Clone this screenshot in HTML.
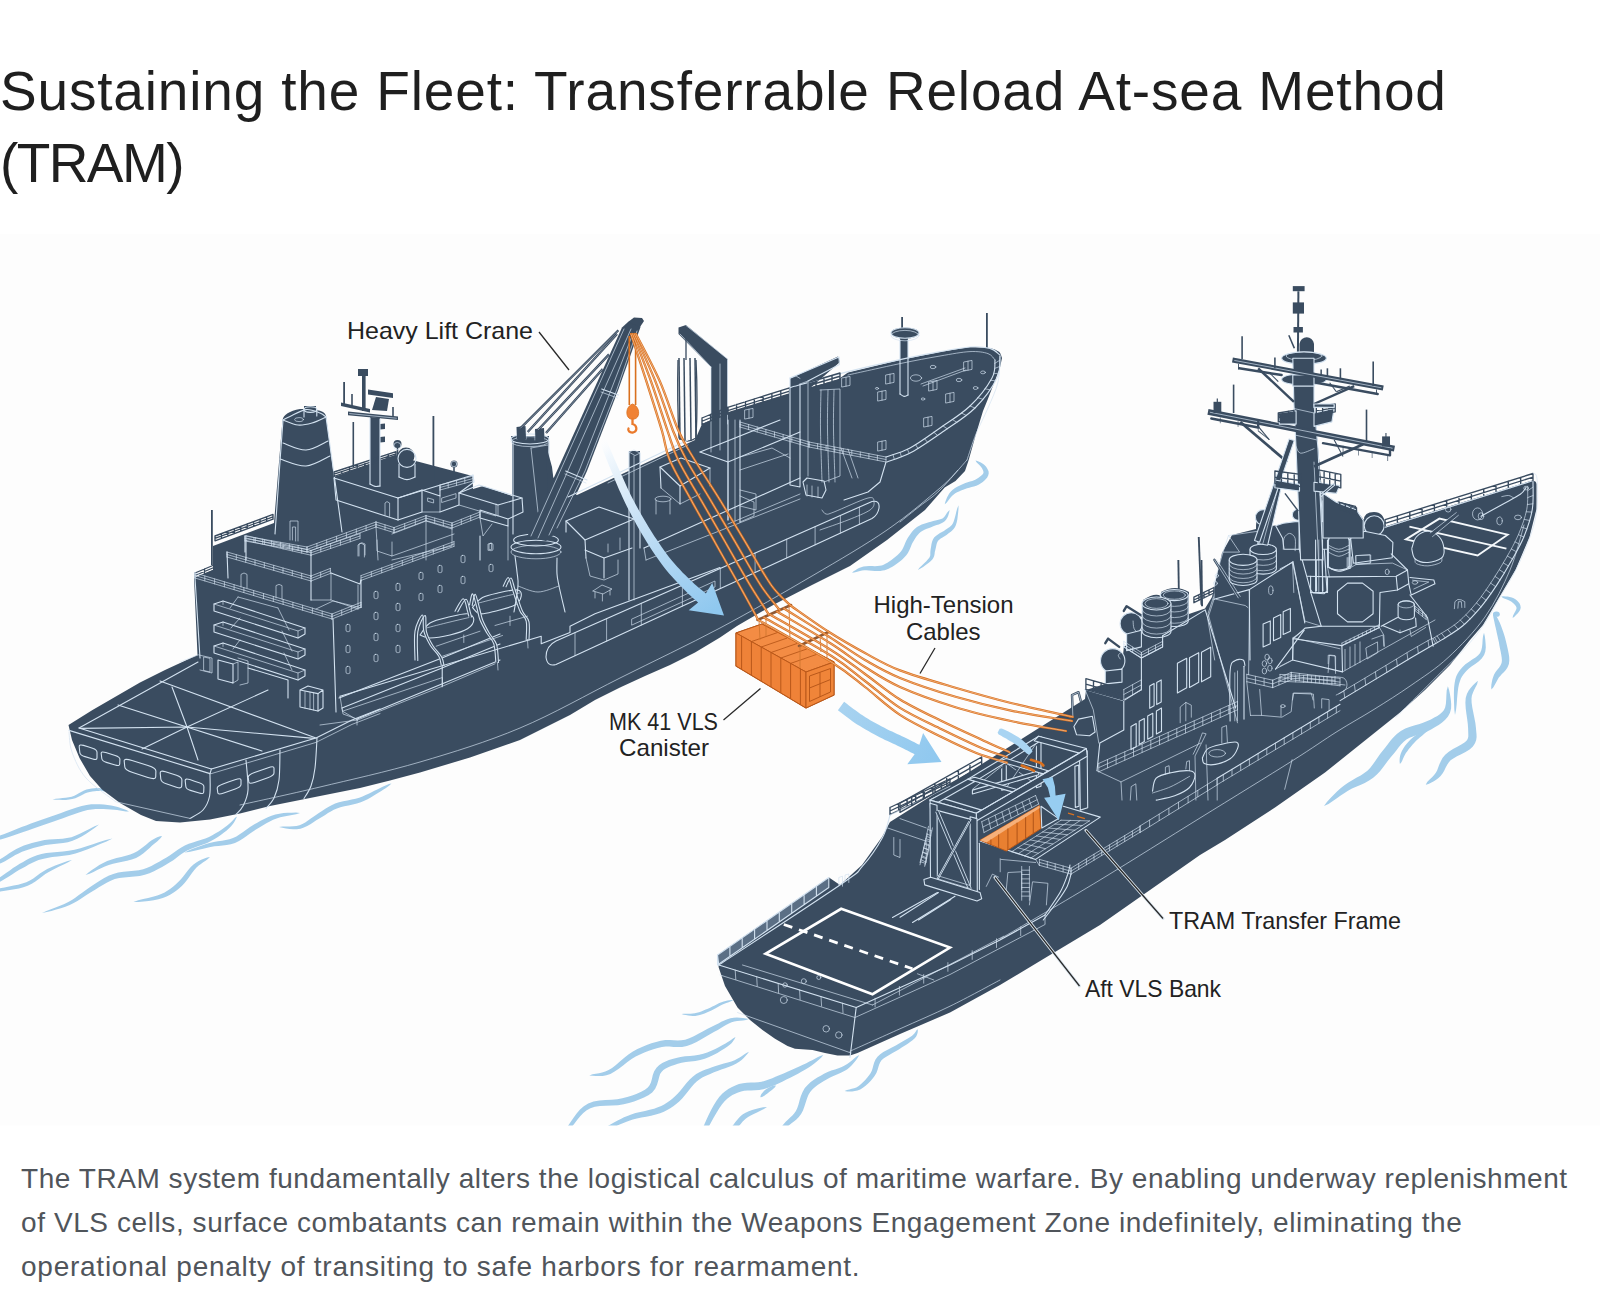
<!DOCTYPE html>
<html><head><meta charset="utf-8">
<style>
html,body{margin:0;padding:0;background:#fff;}
body{width:1600px;height:1298px;position:relative;overflow:hidden;font-family:"Liberation Sans",sans-serif;}
#title{position:absolute;left:0;top:54.5px;margin:0;font-weight:400;font-size:55px;line-height:72px;color:#1f1f1f;white-space:nowrap;}
#title span{display:block;}
#t1{letter-spacing:0.83px;}
#t2{letter-spacing:-1.6px;}
#cap{position:absolute;left:21px;top:1157px;margin:0;font-size:28px;line-height:44px;color:#50555b;white-space:nowrap;}
#cap span{display:block;}
#c1{letter-spacing:0.552px;}#c2{letter-spacing:0.587px;}#c3{letter-spacing:0.75px;}
svg{position:absolute;left:0;top:0;}
.h{fill:#3a4c60;stroke:none;}
.hs{fill:#3a4c60;stroke:#d3e2f0;stroke-width:1.1;stroke-linejoin:round;}
.l{fill:none;stroke:#d3e2f0;stroke-width:1.1;stroke-linecap:round;stroke-linejoin:round;}
.lt{fill:none;stroke:#d3e2f0;stroke-width:0.8;stroke-linecap:round;stroke-linejoin:round;opacity:.85;}
.u{fill:none;stroke:#3a4c60;stroke-width:2.4;stroke-linecap:round;stroke-linejoin:round;}
.u2{fill:none;stroke:#3a4c60;stroke-width:1.35;stroke-linecap:round;stroke-linejoin:round;}
.d{fill:none;stroke:#3a4c60;stroke-linecap:round;}
.w{fill:none;stroke:#a3cdea;stroke-linecap:round;stroke-linejoin:round;}
.o{fill:none;stroke:#d9711f;stroke-width:1.5;stroke-linecap:round;}
.oc{fill:none;stroke:#f6c49a;stroke-width:0.5;stroke-linecap:round;}
.lbl{font-family:"Liberation Sans",sans-serif;font-size:24px;fill:#222;}
.ld{fill:none;stroke:#2a2a2a;stroke-width:1.3;}
</style></head><body>
<h1 id="title"><span id="t1">Sustaining the Fleet: Transferrable Reload At-sea Method</span><span id="t2">(TRAM)</span></h1>
<svg id="art" width="1600" height="1298" viewBox="0 0 1600 1298">
<!-- 05_bg.svg -->
<rect x="0" y="234" width="1600" height="891.5" fill="#fdfdfd"/>
<!-- 10_wakes.svg -->
<defs><clipPath id="imgclip"><rect x="0" y="230" width="1600" height="895.5"/></clipPath></defs>
<g id="wakes" clip-path="url(#imgclip)">
<path fill="#a3cdea" d="M52.5,799.4 L55.8,799.7 L59.2,799.8 L62.6,799.9 L65.9,799.9 L69.2,799.6 L72.3,799.1 L75.3,798.3 L78.0,797.1 L80.6,795.8 L83.0,794.4 L85.3,793.3 L87.5,792.5 L89.8,791.9 L92.2,791.5 L94.5,791.2 L96.8,791.0 L98.8,790.9 L100.4,790.8 L101.5,790.8 L102.2,790.9 L102.8,791.1 L103.4,791.3 L104.1,791.6 L105.0,791.6 L105.0,791.6 L104.7,790.8 L104.3,790.2 L103.8,789.6 L103.1,789.0 L102.0,788.5 L100.6,788.2 L98.8,788.1 L96.7,788.1 L94.3,788.2 L91.7,788.5 L89.1,788.9 L86.5,789.5 L84.0,790.5 L81.6,791.8 L79.2,793.1 L76.7,794.5 L74.3,795.7 L71.7,796.7 L68.8,797.3 L65.7,797.7 L62.5,798.1 L59.1,798.4 L55.8,798.7 L52.5,799.4Z"/>
<path fill="#a3cdea" d="M-36.0,848.0 L-29.7,847.0 L-23.4,845.5 L-17.1,844.0 L-10.9,842.5 L-5.0,840.9 L0.6,839.4 L5.7,837.9 L10.3,836.4 L14.7,834.9 L19.0,833.5 L23.3,832.0 L27.9,830.4 L32.7,828.7 L37.7,827.1 L42.7,825.3 L47.8,823.6 L52.9,821.8 L57.9,820.1 L63.0,818.3 L68.2,816.3 L73.3,814.4 L78.3,812.7 L83.0,811.2 L87.5,810.1 L91.7,809.4 L95.7,809.1 L99.7,809.0 L103.5,809.1 L107.2,809.3 L110.8,809.4 L114.1,809.7 L117.1,810.1 L120.0,810.5 L122.9,811.0 L125.9,811.4 L129.0,811.4 L129.0,811.4 L126.3,810.0 L123.5,808.9 L120.7,807.9 L117.8,807.0 L114.6,806.2 L111.2,805.6 L107.6,805.1 L103.8,804.6 L99.8,804.3 L95.6,804.2 L91.2,804.3 L86.5,804.9 L81.7,806.0 L76.6,807.4 L71.4,809.2 L66.2,811.0 L61.1,812.9 L56.1,814.7 L51.0,816.4 L46.0,818.2 L40.9,820.0 L35.9,821.8 L30.9,823.6 L26.1,825.4 L21.6,827.1 L17.3,828.8 L13.1,830.5 L8.8,832.2 L4.3,833.9 L-0.6,835.6 L-6.0,837.5 L-11.8,839.4 L-17.8,841.4 L-24.0,843.4 L-30.1,845.5 L-36.0,848.0Z"/>
<path fill="#a3cdea" d="M-30.0,875.0 L-24.6,873.4 L-19.2,871.4 L-13.9,869.4 L-8.7,867.3 L-3.7,865.3 L0.9,863.2 L5.0,861.2 L8.7,859.1 L12.1,857.0 L15.3,855.1 L18.6,853.4 L22.0,851.8 L25.7,850.4 L29.5,849.2 L33.3,848.0 L37.3,847.0 L41.4,846.0 L45.5,845.1 L49.6,844.4 L54.0,844.0 L58.5,843.6 L63.1,843.1 L67.9,842.2 L72.6,840.8 L77.2,838.8 L81.7,836.4 L86.2,833.7 L90.6,830.7 L94.9,827.8 L99.0,824.6 L99.0,824.6 L94.1,826.5 L89.4,828.9 L84.8,831.3 L80.3,833.6 L75.8,835.6 L71.4,837.2 L67.0,838.1 L62.6,838.7 L58.1,839.0 L53.6,839.2 L49.0,839.5 L44.5,840.1 L40.2,841.0 L36.0,842.0 L31.9,843.0 L27.9,844.2 L23.9,845.6 L20.0,847.2 L16.3,849.0 L12.9,851.0 L9.6,853.1 L6.4,855.3 L3.0,857.5 L-0.9,859.8 L-5.2,862.1 L-10.0,864.4 L-15.0,866.9 L-20.1,869.4 L-25.2,872.0 L-30.0,875.0Z"/>
<path fill="#a3cdea" d="M-30.0,896.0 L-24.5,893.9 L-19.1,891.4 L-13.8,888.8 L-8.6,886.2 L-3.6,883.6 L1.0,881.2 L5.1,878.8 L8.9,876.5 L12.4,874.2 L15.7,872.1 L18.9,870.1 L22.3,868.2 L25.6,866.4 L28.8,864.6 L31.9,863.0 L35.1,861.5 L38.6,860.1 L42.6,858.9 L47.2,857.9 L52.2,857.1 L57.7,856.5 L63.5,855.8 L69.5,854.9 L75.5,853.5 L81.5,851.6 L87.7,849.3 L93.9,846.8 L100.2,844.1 L106.5,841.4 L112.5,838.4 L112.5,838.4 L105.9,840.0 L99.4,842.1 L93.0,844.2 L86.6,846.3 L80.5,848.2 L74.5,849.7 L68.7,850.8 L63.0,851.5 L57.2,851.9 L51.7,852.4 L46.3,853.0 L41.4,853.9 L37.0,855.2 L33.1,856.7 L29.6,858.3 L26.3,860.1 L23.1,861.9 L19.7,863.8 L16.3,865.9 L13.0,868.1 L9.8,870.4 L6.4,872.8 L2.9,875.3 L-1.0,877.8 L-5.4,880.5 L-10.1,883.4 L-15.1,886.4 L-20.2,889.4 L-25.3,892.6 L-30.0,896.0Z"/>
<path fill="#a3cdea" d="M-30.0,896.0 L-24.8,895.6 L-19.7,894.9 L-14.6,894.1 L-9.5,893.3 L-4.5,892.5 L0.3,891.6 L5.1,890.8 L9.8,890.1 L14.4,889.3 L19.0,888.4 L23.4,887.3 L27.7,885.8 L31.8,883.8 L35.4,881.5 L38.8,879.0 L42.1,876.5 L45.3,874.1 L48.8,871.9 L52.5,869.9 L56.3,868.0 L60.3,866.1 L64.2,864.2 L68.2,862.3 L72.0,860.0 L72.0,860.0 L67.7,861.1 L63.5,862.5 L59.4,864.0 L55.2,865.6 L51.2,867.2 L47.2,869.1 L43.5,871.2 L39.9,873.6 L36.6,876.0 L33.3,878.4 L29.9,880.5 L26.3,882.2 L22.3,883.6 L18.1,884.7 L13.7,885.6 L9.1,886.5 L4.4,887.4 L-0.3,888.4 L-5.1,889.5 L-10.0,890.7 L-15.0,891.9 L-20.1,893.1 L-25.1,894.4 L-30.0,896.0Z"/>
<path fill="#a3cdea" d="M42.0,913.1 L46.8,912.1 L51.5,910.9 L56.2,909.6 L60.9,908.2 L65.4,906.7 L69.7,905.0 L73.7,903.0 L77.4,900.9 L80.9,898.7 L84.2,896.4 L87.6,894.2 L91.3,892.0 L95.1,889.7 L98.9,887.3 L102.8,884.9 L106.7,882.7 L110.7,880.7 L114.8,879.1 L119.3,878.1 L124.1,877.4 L129.2,877.0 L134.5,876.6 L139.8,876.0 L144.8,874.8 L149.5,873.2 L154.0,871.3 L158.2,869.1 L162.1,866.9 L165.9,864.7 L169.5,862.5 L172.9,860.4 L175.9,858.3 L178.7,856.1 L181.4,854.1 L184.2,852.2 L187.2,850.5 L190.7,848.9 L194.6,847.4 L198.8,846.0 L203.0,844.5 L207.2,842.9 L211.0,841.1 L214.6,839.1 L217.9,837.0 L221.1,834.8 L224.0,832.6 L226.7,830.4 L229.1,828.3 L231.1,826.2 L232.7,824.3 L234.0,822.4 L235.1,820.5 L236.1,818.6 L237.0,816.5 L237.0,816.5 L235.1,817.8 L233.6,819.4 L232.2,821.0 L230.7,822.5 L229.0,824.1 L226.9,825.7 L224.5,827.5 L221.8,829.4 L218.8,831.4 L215.6,833.3 L212.3,835.2 L209.0,836.9 L205.4,838.4 L201.4,839.7 L197.2,841.0 L192.9,842.4 L188.7,843.8 L184.8,845.5 L181.3,847.4 L178.1,849.4 L175.3,851.5 L172.5,853.5 L169.7,855.5 L166.5,857.5 L162.9,859.5 L159.2,861.7 L155.3,863.8 L151.4,865.9 L147.3,867.7 L143.2,869.2 L138.8,870.2 L133.9,870.8 L128.8,871.3 L123.5,871.8 L118.2,872.6 L113.2,873.9 L108.5,875.8 L104.2,878.0 L100.1,880.5 L96.2,883.1 L92.4,885.6 L88.7,888.0 L85.2,890.4 L81.8,892.9 L78.5,895.3 L75.3,897.7 L71.9,899.9 L68.3,902.0 L64.3,903.9 L60.0,905.7 L55.5,907.5 L50.9,909.2 L46.4,911.0 L42.0,913.1Z"/>
<path fill="#a3cdea" d="M85.5,875.0 L89.6,873.7 L93.5,871.9 L97.2,870.1 L101.0,868.2 L104.8,866.5 L108.8,865.0 L113.0,863.8 L117.5,862.7 L122.3,861.8 L127.1,860.8 L131.8,859.5 L136.1,857.9 L140.0,855.7 L143.5,853.2 L146.7,850.6 L149.6,848.0 L152.1,845.6 L154.3,843.7 L156.2,842.2 L157.7,840.9 L158.9,839.8 L160.0,838.8 L161.1,837.6 L162.0,836.0 L162.0,836.0 L160.1,836.2 L158.7,836.7 L157.2,837.2 L155.7,838.0 L153.9,838.9 L151.7,840.3 L149.2,842.1 L146.4,844.4 L143.5,846.7 L140.5,849.1 L137.3,851.3 L133.9,853.1 L130.2,854.6 L125.9,855.8 L121.2,856.9 L116.5,858.1 L111.7,859.4 L107.2,861.0 L103.2,862.9 L99.3,865.1 L95.7,867.4 L92.2,869.8 L88.8,872.2 L85.5,875.0Z"/>
<path fill="#a3cdea" d="M133.5,902.0 L138.5,901.9 L143.6,901.4 L148.7,900.9 L153.7,900.2 L158.4,899.3 L162.8,898.0 L166.6,896.5 L170.1,894.7 L173.3,892.8 L176.2,890.7 L179.0,888.4 L181.8,885.9 L184.6,883.0 L187.2,879.7 L189.7,876.3 L192.0,873.0 L194.3,870.1 L196.5,867.6 L198.7,865.6 L200.9,863.9 L203.2,862.3 L205.6,860.8 L207.9,859.1 L210.0,857.0 L210.0,857.0 L207.1,857.6 L204.4,858.6 L201.8,859.6 L199.1,860.8 L196.3,862.4 L193.5,864.4 L190.8,867.0 L188.2,870.1 L185.7,873.3 L183.2,876.5 L180.7,879.5 L178.2,882.1 L175.6,884.5 L173.0,886.7 L170.4,888.7 L167.7,890.6 L164.6,892.4 L161.2,894.0 L157.3,895.4 L152.9,896.7 L148.1,897.9 L143.2,899.0 L138.2,900.2 L133.5,902.0Z"/>
<path fill="#a3cdea" d="M184.5,852.5 L189.0,852.0 L193.4,851.0 L197.8,849.9 L202.1,848.9 L206.3,847.9 L210.5,847.0 L214.5,846.3 L218.5,845.9 L222.6,845.5 L226.7,845.0 L230.9,844.2 L235.0,843.0 L239.0,841.1 L242.7,838.8 L246.3,836.3 L249.7,833.8 L253.0,831.4 L256.4,829.3 L259.8,827.2 L263.1,825.2 L266.4,823.3 L269.8,821.5 L273.1,819.8 L276.6,818.4 L280.2,817.3 L284.0,816.4 L288.0,815.7 L292.0,815.0 L296.1,814.2 L300.0,812.9 L300.0,812.9 L295.9,812.6 L291.8,812.7 L287.6,812.8 L283.5,813.1 L279.4,813.7 L275.4,814.6 L271.5,815.8 L267.8,817.3 L264.2,819.0 L260.6,820.8 L257.2,822.7 L253.6,824.7 L250.0,826.9 L246.5,829.4 L243.1,831.9 L239.7,834.3 L236.4,836.4 L233.0,838.0 L229.5,839.2 L225.8,840.1 L222.0,840.7 L217.9,841.3 L213.8,842.0 L209.5,843.0 L205.3,844.3 L201.1,845.7 L196.9,847.2 L192.7,848.8 L188.5,850.5 L184.5,852.5Z"/>
<path fill="#a3cdea" d="M279.0,827.0 L282.5,827.8 L286.0,828.4 L289.6,828.9 L293.2,829.2 L296.9,829.2 L300.5,828.7 L303.9,827.6 L307.2,826.0 L310.4,824.2 L313.4,822.2 L316.3,820.3 L319.3,818.5 L322.3,816.8 L325.2,814.9 L328.0,813.1 L330.8,811.4 L333.8,809.8 L336.9,808.4 L340.4,807.3 L344.3,806.3 L348.5,805.4 L352.8,804.5 L356.9,803.5 L360.8,802.3 L364.3,800.8 L367.6,799.2 L370.7,797.5 L373.5,795.8 L376.3,794.1 L378.8,792.6 L381.3,791.1 L383.5,789.6 L385.6,788.2 L387.7,786.8 L389.6,785.3 L391.5,783.5 L391.5,783.5 L389.0,784.1 L386.7,785.1 L384.4,786.1 L382.1,787.1 L379.7,788.2 L377.2,789.4 L374.4,790.8 L371.6,792.2 L368.6,793.7 L365.6,795.1 L362.5,796.5 L359.2,797.7 L355.6,798.7 L351.7,799.6 L347.5,800.4 L343.2,801.3 L339.0,802.3 L335.1,803.6 L331.5,805.2 L328.3,806.9 L325.3,808.8 L322.4,810.7 L319.6,812.6 L316.7,814.5 L313.8,816.4 L310.8,818.5 L308.0,820.6 L305.2,822.5 L302.4,824.1 L299.5,825.3 L296.5,826.0 L293.2,826.3 L289.8,826.4 L286.2,826.4 L282.6,826.4 L279.0,827.0Z"/>
<path fill="#a3cdea" d="M681.5,1014.0 L683.7,1014.7 L685.9,1015.1 L688.2,1015.5 L690.5,1015.8 L692.8,1016.0 L695.2,1015.9 L697.6,1015.5 L699.9,1014.9 L702.3,1014.2 L704.6,1013.4 L706.8,1012.5 L709.1,1011.5 L711.4,1010.5 L713.8,1009.3 L716.1,1008.0 L718.3,1006.7 L720.5,1005.6 L722.5,1004.6 L724.4,1003.8 L726.2,1003.0 L728.0,1002.4 L729.8,1001.7 L731.6,1001.0 L733.3,1000.0 L733.3,1000.0 L731.3,1000.0 L729.4,1000.3 L727.5,1000.6 L725.6,1001.0 L723.6,1001.5 L721.5,1002.2 L719.3,1003.1 L717.0,1004.2 L714.7,1005.4 L712.4,1006.5 L710.1,1007.7 L707.9,1008.7 L705.7,1009.6 L703.4,1010.5 L701.2,1011.4 L699.1,1012.2 L696.9,1012.8 L694.8,1013.3 L692.7,1013.6 L690.5,1013.7 L688.3,1013.7 L686.1,1013.7 L683.8,1013.7 L681.5,1014.0Z"/>
<path fill="#a3cdea" d="M589.3,1075.4 L592.7,1075.8 L595.9,1076.0 L599.2,1076.1 L602.7,1075.9 L606.4,1075.2 L610.4,1073.9 L614.6,1071.6 L618.8,1068.7 L623.1,1065.4 L627.4,1062.1 L631.6,1059.0 L635.7,1056.5 L640.0,1054.4 L644.4,1052.5 L648.9,1050.8 L653.4,1049.3 L657.7,1048.1 L661.9,1047.1 L665.7,1046.6 L669.5,1046.6 L673.5,1046.9 L677.7,1047.0 L682.1,1046.9 L686.9,1045.9 L691.7,1044.2 L696.6,1041.9 L701.4,1039.3 L706.1,1036.6 L710.4,1034.0 L714.3,1031.8 L717.8,1029.9 L721.0,1028.0 L723.8,1026.3 L726.4,1024.7 L728.9,1023.4 L731.6,1022.3 L734.3,1021.5 L737.1,1021.0 L740.0,1020.7 L743.0,1020.4 L746.0,1020.0 L749.0,1019.1 L749.0,1019.1 L746.0,1018.4 L743.0,1018.1 L740.0,1017.8 L736.9,1017.6 L733.7,1017.8 L730.4,1018.3 L727.3,1019.2 L724.3,1020.4 L721.3,1021.8 L718.4,1023.4 L715.2,1025.0 L711.7,1026.8 L707.6,1028.8 L703.1,1031.3 L698.4,1033.8 L693.8,1036.2 L689.3,1038.2 L685.1,1039.7 L681.4,1040.3 L677.7,1040.5 L673.8,1040.3 L669.7,1040.0 L665.3,1040.1 L660.7,1040.7 L656.1,1041.9 L651.4,1043.3 L646.7,1045.0 L642.0,1046.9 L637.4,1049.1 L632.9,1051.5 L628.4,1054.4 L624.0,1057.9 L619.9,1061.4 L615.9,1064.9 L612.1,1067.9 L608.6,1070.1 L605.3,1071.6 L602.1,1072.6 L599.0,1073.2 L595.8,1073.7 L592.5,1074.2 L589.3,1075.4Z"/>
<path fill="#a3cdea" d="M555.5,1148.5 L558.5,1145.1 L561.1,1141.4 L563.6,1137.8 L566.1,1134.1 L568.8,1130.6 L571.6,1127.1 L574.5,1123.5 L577.3,1119.8 L580.2,1116.2 L583.3,1113.0 L586.7,1110.3 L590.4,1108.2 L594.8,1106.8 L600.0,1106.1 L605.8,1105.8 L611.9,1105.6 L618.0,1105.2 L623.7,1104.3 L629.0,1102.9 L634.1,1101.4 L639.2,1099.6 L644.0,1097.6 L648.4,1095.2 L652.2,1092.4 L655.2,1088.7 L657.1,1084.6 L658.3,1080.6 L659.2,1077.0 L660.1,1074.0 L661.5,1071.9 L663.4,1070.1 L665.7,1068.6 L668.2,1067.2 L671.1,1066.0 L674.3,1064.9 L677.8,1063.7 L681.6,1062.8 L685.9,1062.1 L690.5,1061.5 L695.4,1060.9 L700.2,1060.0 L704.8,1058.8 L709.1,1057.1 L713.4,1055.1 L717.4,1052.9 L721.2,1050.6 L724.6,1048.5 L727.5,1046.5 L729.8,1044.8 L731.5,1043.2 L732.7,1041.7 L733.7,1040.3 L734.6,1038.9 L735.5,1037.1 L735.5,1037.1 L733.7,1037.9 L732.3,1038.9 L731.0,1039.9 L729.5,1041.0 L727.8,1042.1 L725.5,1043.5 L722.6,1045.1 L719.1,1046.9 L715.3,1048.9 L711.3,1050.8 L707.2,1052.5 L703.2,1053.8 L699.1,1054.8 L694.6,1055.4 L689.9,1055.9 L685.1,1056.3 L680.5,1056.9 L676.2,1057.9 L672.4,1059.0 L668.9,1060.1 L665.5,1061.4 L662.3,1063.0 L659.3,1065.1 L656.5,1067.7 L654.2,1071.2 L652.8,1075.1 L651.9,1078.9 L650.9,1082.4 L649.6,1085.3 L647.8,1087.6 L644.9,1089.7 L641.2,1091.8 L636.9,1093.7 L632.2,1095.4 L627.2,1096.9 L622.3,1098.3 L617.2,1099.3 L611.5,1099.8 L605.5,1100.1 L599.4,1100.6 L593.5,1101.6 L588.2,1103.4 L583.8,1106.2 L580.0,1109.6 L576.8,1113.3 L573.9,1117.2 L571.3,1121.1 L568.6,1124.9 L566.0,1128.7 L563.7,1132.5 L561.4,1136.4 L559.3,1140.4 L557.3,1144.4 L555.5,1148.5Z"/>
<path fill="#a3cdea" d="M587.0,1139.5 L591.5,1137.8 L596.0,1135.8 L600.3,1133.6 L604.6,1131.5 L608.8,1129.6 L612.7,1127.7 L616.3,1126.1 L619.6,1124.6 L622.8,1123.2 L625.9,1122.0 L629.2,1120.8 L632.8,1119.6 L636.9,1118.5 L641.4,1117.6 L646.2,1116.7 L651.1,1115.8 L655.8,1114.6 L660.1,1113.3 L663.9,1111.7 L667.2,1110.0 L670.3,1108.2 L673.3,1106.2 L676.2,1104.0 L679.2,1101.4 L682.4,1098.3 L685.5,1094.6 L688.5,1090.8 L691.5,1087.1 L694.3,1083.8 L697.0,1081.2 L699.7,1079.2 L702.3,1077.6 L704.9,1076.2 L707.8,1075.0 L710.8,1073.7 L714.0,1072.3 L717.5,1070.9 L721.3,1069.6 L725.2,1068.2 L729.2,1066.8 L733.0,1065.3 L736.4,1063.6 L739.2,1061.8 L741.6,1060.0 L743.7,1058.0 L745.5,1056.1 L747.3,1054.1 L749.0,1051.8 L749.0,1051.8 L746.4,1052.9 L744.1,1054.4 L742.0,1056.0 L739.7,1057.4 L737.3,1058.8 L734.6,1060.2 L731.4,1061.4 L727.8,1062.5 L723.8,1063.6 L719.7,1064.8 L715.7,1066.0 L712.0,1067.3 L708.7,1068.5 L705.6,1069.6 L702.5,1070.8 L699.4,1072.2 L696.2,1074.0 L693.0,1076.4 L689.7,1079.4 L686.5,1082.9 L683.5,1086.7 L680.5,1090.4 L677.6,1093.8 L674.8,1096.6 L672.0,1098.9 L669.4,1100.9 L666.8,1102.7 L664.1,1104.4 L661.2,1105.9 L657.9,1107.3 L654.1,1108.7 L649.7,1109.8 L645.0,1110.9 L640.2,1111.9 L635.5,1113.1 L631.2,1114.4 L627.4,1115.9 L624.0,1117.3 L620.8,1118.9 L617.6,1120.6 L614.4,1122.3 L610.9,1124.3 L607.1,1126.4 L603.1,1128.8 L599.0,1131.3 L594.9,1133.9 L590.8,1136.6 L587.0,1139.5Z"/>
<path fill="#a3cdea" d="M695.0,1153.0 L697.7,1148.8 L699.9,1144.5 L702.0,1140.1 L704.0,1135.8 L706.2,1131.4 L708.5,1127.1 L711.0,1122.5 L713.6,1117.7 L716.4,1113.0 L719.1,1108.5 L721.9,1104.5 L724.6,1101.2 L727.2,1098.7 L729.8,1096.7 L732.4,1095.0 L735.2,1093.7 L738.1,1092.5 L741.1,1091.5 L744.1,1090.8 L747.4,1090.5 L751.1,1090.4 L755.0,1090.3 L759.2,1090.0 L763.4,1089.2 L767.4,1088.0 L771.3,1086.6 L775.2,1084.9 L779.0,1083.2 L782.7,1081.4 L786.4,1079.6 L790.2,1077.7 L794.1,1075.7 L798.0,1073.7 L801.8,1071.6 L805.4,1069.5 L808.7,1067.4 L811.7,1065.5 L814.3,1063.5 L816.8,1061.6 L819.1,1059.6 L821.3,1057.6 L823.3,1055.1 L823.3,1055.1 L820.2,1056.0 L817.5,1057.3 L814.9,1058.7 L812.2,1060.2 L809.4,1061.6 L806.3,1063.2 L802.9,1064.8 L799.2,1066.5 L795.3,1068.3 L791.4,1070.0 L787.4,1071.8 L783.6,1073.4 L779.8,1075.0 L776.0,1076.6 L772.3,1078.2 L768.7,1079.6 L765.1,1080.8 L761.6,1081.8 L758.2,1082.3 L754.7,1082.5 L750.9,1082.6 L746.9,1082.7 L742.9,1083.2 L738.9,1084.1 L735.3,1085.4 L732.0,1086.9 L728.7,1088.7 L725.5,1090.9 L722.4,1093.5 L719.4,1096.8 L716.5,1100.7 L713.7,1105.2 L711.1,1110.1 L708.6,1115.1 L706.3,1120.1 L704.1,1124.9 L702.1,1129.6 L700.4,1134.2 L698.8,1138.9 L697.3,1143.5 L696.0,1148.2 L695.0,1153.0Z"/>
<path fill="#a3cdea" d="M760.3,1097.2 L762.1,1096.9 L763.4,1096.2 L764.7,1095.4 L765.9,1094.5 L767.1,1093.7 L768.3,1092.8 L769.5,1091.8 L770.9,1090.8 L772.2,1089.8 L773.6,1088.6 L775.0,1087.3 L776.0,1085.5 L776.0,1085.5 L774.0,1085.6 L772.2,1086.1 L770.5,1086.8 L768.8,1087.6 L767.2,1088.4 L765.7,1089.4 L764.4,1090.5 L763.3,1091.7 L762.3,1092.9 L761.4,1094.1 L760.7,1095.5 L760.3,1097.2Z"/>
<path fill="#a3cdea" d="M722.0,1144.0 L725.1,1141.5 L727.8,1138.6 L730.4,1135.7 L732.9,1132.8 L735.2,1130.1 L737.4,1127.6 L739.4,1125.4 L741.1,1123.4 L742.7,1121.6 L744.3,1120.0 L746.0,1118.5 L748.1,1116.9 L750.7,1115.4 L753.7,1113.9 L757.0,1112.4 L760.4,1110.8 L763.9,1109.1 L767.0,1106.9 L767.0,1106.9 L763.2,1107.2 L759.5,1108.0 L755.7,1108.9 L752.1,1110.0 L748.7,1111.2 L745.5,1112.7 L742.9,1114.3 L740.7,1116.1 L738.8,1117.9 L737.1,1119.9 L735.4,1122.0 L733.6,1124.4 L731.5,1127.2 L729.5,1130.2 L727.4,1133.5 L725.4,1136.9 L723.4,1140.3 L722.0,1144.0Z"/>
<path fill="#a3cdea" d="M769.3,1146.3 L772.6,1143.4 L775.6,1140.0 L778.5,1136.7 L781.4,1133.4 L784.1,1130.3 L786.7,1127.5 L789.1,1125.2 L791.5,1123.3 L793.9,1121.5 L796.4,1119.5 L798.8,1117.1 L801.1,1114.1 L803.0,1110.4 L804.5,1106.3 L805.8,1102.2 L807.1,1098.3 L808.5,1094.8 L810.2,1091.9 L812.3,1089.5 L814.8,1087.2 L817.6,1085.1 L820.7,1083.0 L823.9,1081.1 L827.0,1079.2 L830.1,1077.5 L833.4,1075.9 L836.9,1074.5 L840.4,1073.0 L843.8,1071.3 L847.0,1069.4 L849.7,1067.3 L852.0,1065.0 L854.1,1062.6 L856.0,1060.2 L857.7,1057.8 L859.3,1055.1 L859.3,1055.1 L856.5,1056.6 L854.1,1058.5 L851.9,1060.4 L849.6,1062.3 L847.2,1064.0 L844.6,1065.6 L841.7,1067.0 L838.5,1068.2 L835.0,1069.4 L831.3,1070.6 L827.6,1072.1 L824.0,1073.8 L820.7,1075.7 L817.3,1077.6 L813.9,1079.7 L810.7,1082.1 L807.6,1084.9 L804.8,1088.1 L802.6,1091.9 L800.9,1096.1 L799.6,1100.3 L798.5,1104.4 L797.3,1108.0 L795.9,1110.9 L794.3,1113.3 L792.4,1115.4 L790.4,1117.3 L788.1,1119.4 L785.7,1121.7 L783.3,1124.5 L780.9,1127.7 L778.5,1131.1 L776.0,1134.8 L773.6,1138.5 L771.3,1142.3 L769.3,1146.3Z"/>
<path fill="#a3cdea" d="M844.6,1091.1 L847.2,1091.4 L849.7,1091.4 L852.2,1091.4 L854.8,1091.1 L857.5,1090.5 L860.2,1089.4 L862.9,1087.8 L865.6,1085.7 L868.1,1083.4 L870.6,1080.9 L872.9,1078.3 L874.9,1075.6 L876.5,1072.8 L877.6,1069.8 L878.4,1067.0 L879.2,1064.4 L880.2,1062.2 L881.5,1060.3 L883.5,1058.5 L886.2,1056.7 L889.2,1054.9 L892.5,1053.1 L895.7,1051.3 L898.8,1049.4 L901.7,1047.6 L904.6,1045.7 L907.4,1043.9 L910.1,1042.1 L912.5,1040.3 L914.5,1038.5 L916.0,1036.7 L916.9,1035.1 L917.4,1033.6 L917.7,1032.2 L917.8,1030.9 L917.8,1029.3 L917.8,1029.3 L916.5,1030.3 L915.8,1031.5 L915.1,1032.5 L914.4,1033.6 L913.4,1034.6 L912.1,1035.7 L910.2,1037.0 L907.8,1038.5 L905.1,1040.1 L902.1,1041.7 L899.1,1043.4 L896.2,1045.2 L893.3,1046.8 L890.0,1048.5 L886.6,1050.2 L883.3,1052.1 L880.2,1054.2 L877.5,1056.7 L875.5,1059.6 L874.2,1062.6 L873.3,1065.5 L872.6,1068.3 L871.8,1070.7 L870.7,1073.0 L869.1,1075.3 L867.1,1077.8 L865.0,1080.3 L862.7,1082.6 L860.5,1084.6 L858.4,1086.2 L856.3,1087.4 L854.1,1088.2 L851.8,1088.8 L849.4,1089.4 L847.0,1090.0 L844.6,1091.1Z"/>
<path fill="#a3cdea" d="M975.5,460.5 L976.5,462.2 L977.8,463.6 L979.1,464.8 L980.3,466.0 L981.3,467.2 L982.0,468.2 L982.6,469.4 L983.1,470.5 L983.4,471.5 L983.5,472.3 L983.4,472.9 L983.2,473.4 L982.7,474.2 L981.7,475.2 L980.4,476.3 L978.9,477.4 L977.3,478.5 L975.7,479.5 L974.1,480.2 L972.2,480.9 L970.0,481.5 L967.7,482.2 L965.4,482.9 L963.1,483.9 L960.9,484.9 L958.8,485.9 L956.7,487.0 L954.7,488.3 L952.7,489.7 L950.9,491.4 L949.4,493.3 L948.1,495.4 L947.0,497.5 L946.1,499.7 L945.3,501.9 L944.7,504.2 L944.7,504.2 L946.6,502.7 L948.1,500.8 L949.4,499.0 L950.8,497.2 L952.2,495.7 L953.7,494.4 L955.3,493.3 L957.1,492.3 L959.0,491.4 L961.0,490.6 L963.1,489.7 L965.1,488.9 L967.1,488.3 L969.3,487.7 L971.6,487.1 L973.9,486.5 L976.3,485.7 L978.5,484.7 L980.5,483.5 L982.4,482.2 L984.2,480.7 L985.9,479.1 L987.2,477.4 L988.2,475.6 L988.7,473.6 L988.6,471.6 L988.0,469.9 L987.2,468.4 L986.3,467.0 L985.2,465.8 L983.9,464.5 L982.4,463.5 L980.8,462.5 L979.1,461.7 L977.4,460.9 L975.5,460.5Z"/>
<path fill="#a3cdea" d="M949.6,510.1 L948.1,511.5 L946.9,513.1 L945.8,514.7 L944.8,516.2 L943.7,517.4 L942.5,518.4 L941.1,519.1 L939.4,519.6 L937.5,520.1 L935.4,520.5 L933.2,521.0 L930.9,521.7 L928.8,522.3 L926.5,523.0 L924.1,523.7 L921.7,524.6 L919.3,525.7 L917.0,527.0 L914.9,528.7 L913.1,530.6 L911.5,532.5 L910.1,534.5 L908.7,536.6 L907.4,538.6 L906.1,540.9 L905.1,543.3 L904.2,545.5 L903.3,547.6 L902.3,549.5 L901.1,551.3 L899.6,553.0 L897.6,554.9 L895.5,556.8 L893.3,558.5 L891.1,560.2 L889.2,561.5 L887.4,562.7 L885.9,563.6 L884.5,564.3 L883.1,564.9 L881.5,565.4 L879.7,565.8 L877.5,566.1 L874.9,566.2 L872.1,566.1 L869.1,566.1 L866.2,566.2 L863.5,566.6 L861.2,567.3 L859.0,568.1 L857.1,569.1 L855.4,570.2 L853.6,571.3 L852.0,572.7 L852.0,572.7 L854.2,572.6 L856.2,572.0 L858.1,571.4 L860.0,570.9 L862.0,570.5 L864.1,570.2 L866.4,570.2 L869.0,570.4 L871.8,570.7 L874.8,570.9 L877.6,571.1 L880.3,571.0 L882.7,570.6 L884.7,570.2 L886.7,569.6 L888.6,568.8 L890.4,567.8 L892.4,566.7 L894.7,565.3 L897.1,563.6 L899.5,561.7 L902.0,559.7 L904.2,557.6 L906.3,555.3 L907.9,552.9 L909.2,550.5 L910.3,548.1 L911.2,545.8 L912.0,543.8 L913.0,542.0 L914.2,540.1 L915.4,538.1 L916.6,536.3 L917.9,534.7 L919.2,533.2 L920.6,532.0 L922.2,530.9 L924.0,529.9 L926.1,529.1 L928.3,528.2 L930.5,527.4 L932.7,526.5 L934.6,525.8 L936.7,525.1 L938.8,524.4 L940.9,523.6 L942.9,522.6 L944.7,521.2 L946.2,519.6 L947.3,517.8 L948.1,515.9 L948.7,514.0 L949.3,512.1 L949.6,510.1Z"/>
<path fill="#a3cdea" d="M958.5,505.3 L957.2,508.4 L956.3,511.8 L955.5,515.2 L954.6,518.4 L953.8,521.2 L952.8,523.4 L951.8,525.0 L950.8,526.1 L949.7,527.0 L948.5,527.8 L947.0,528.7 L945.5,529.8 L943.9,530.9 L942.0,532.0 L940.0,533.1 L937.9,534.4 L935.8,535.9 L934.1,537.6 L932.8,539.7 L932.0,541.9 L931.5,544.0 L931.2,546.0 L930.9,547.8 L930.6,549.5 L930.4,551.2 L930.3,552.8 L930.3,554.1 L930.3,555.2 L930.0,556.3 L929.3,557.7 L928.0,559.3 L926.3,561.2 L924.2,563.3 L921.9,565.4 L919.7,567.6 L917.8,570.0 L917.8,570.0 L920.5,568.6 L923.1,566.9 L925.7,565.1 L928.1,563.3 L930.3,561.5 L932.1,559.7 L933.3,557.9 L934.1,556.2 L934.5,554.5 L934.7,553.1 L934.8,551.9 L935.2,550.5 L935.6,548.8 L936.0,546.9 L936.4,545.0 L936.8,543.4 L937.4,541.9 L938.1,540.8 L939.2,539.7 L940.7,538.5 L942.5,537.4 L944.5,536.2 L946.5,534.9 L948.3,533.6 L949.7,532.4 L951.1,531.4 L952.4,530.2 L953.8,528.8 L955.0,527.0 L956.0,524.8 L956.8,522.1 L957.4,519.0 L957.8,515.6 L958.2,512.1 L958.5,508.7 L958.5,505.3Z"/>
<path fill="#a3cdea" d="M1484.0,632.7 L1483.0,636.3 L1482.6,640.1 L1482.4,643.7 L1482.0,647.2 L1481.3,650.3 L1480.1,652.9 L1478.2,655.2 L1475.5,657.4 L1472.2,659.6 L1468.7,661.9 L1465.4,664.3 L1462.6,666.9 L1460.6,669.3 L1458.9,671.5 L1457.4,673.9 L1456.2,676.5 L1455.3,679.5 L1454.6,683.2 L1454.1,687.6 L1453.9,692.7 L1453.9,698.2 L1454.1,703.9 L1454.3,709.5 L1455.0,715.0 L1455.0,715.0 L1456.1,709.6 L1456.7,704.0 L1457.1,698.3 L1457.6,693.0 L1458.2,688.1 L1459.0,684.0 L1460.0,680.9 L1460.9,678.4 L1462.0,676.5 L1463.2,674.7 L1464.8,672.8 L1466.6,670.7 L1468.9,668.5 L1471.8,666.3 L1475.2,664.0 L1478.6,661.4 L1481.7,658.5 L1484.1,655.1 L1485.3,651.4 L1485.8,647.6 L1485.6,643.8 L1485.3,640.0 L1484.8,636.3 L1484.0,632.7Z"/>
<path fill="#a3cdea" d="M1447.9,686.3 L1446.7,690.6 L1446.4,695.2 L1446.2,699.6 L1445.9,703.7 L1445.2,707.2 L1444.0,709.9 L1442.3,712.1 L1440.1,714.1 L1437.4,715.9 L1434.3,717.6 L1430.9,719.4 L1427.3,721.1 L1423.7,722.6 L1419.6,723.9 L1415.0,725.2 L1410.1,726.7 L1405.3,728.5 L1400.8,731.0 L1396.8,734.0 L1393.5,737.2 L1390.6,740.6 L1388.0,744.0 L1385.5,747.3 L1382.9,750.6 L1380.1,754.1 L1377.5,757.7 L1375.1,761.3 L1372.6,764.8 L1370.1,767.9 L1367.4,770.7 L1364.3,773.1 L1360.7,775.4 L1356.8,777.6 L1352.6,779.9 L1348.4,782.4 L1344.4,785.2 L1340.6,788.3 L1337.0,791.6 L1333.5,795.0 L1330.1,798.4 L1326.9,802.0 L1324.0,806.0 L1324.0,806.0 L1328.5,803.9 L1332.5,801.2 L1336.5,798.5 L1340.3,795.8 L1344.2,793.2 L1348.0,790.8 L1352.0,788.6 L1356.1,786.7 L1360.4,784.9 L1364.8,782.9 L1369.1,780.5 L1373.2,777.7 L1376.9,774.4 L1380.2,770.9 L1383.1,767.2 L1385.7,763.7 L1388.3,760.3 L1390.9,757.0 L1393.7,753.7 L1396.3,750.4 L1398.7,747.2 L1401.2,744.3 L1403.7,741.8 L1406.4,739.6 L1409.6,737.8 L1413.5,736.2 L1417.9,734.7 L1422.6,733.1 L1427.2,731.4 L1431.5,729.3 L1435.2,727.1 L1438.7,724.9 L1442.1,722.5 L1445.2,719.7 L1448.0,716.5 L1450.0,712.7 L1451.1,708.4 L1451.2,703.9 L1450.8,699.4 L1450.1,694.9 L1449.2,690.5 L1447.9,686.3Z"/>
<path fill="#a3cdea" d="M1428.5,729.4 L1425.6,730.2 L1423.0,731.3 L1420.4,732.6 L1417.9,733.9 L1415.4,735.5 L1413.1,737.3 L1410.8,739.3 L1408.7,741.5 L1406.7,743.8 L1404.9,746.1 L1403.3,748.5 L1401.9,750.9 L1400.9,753.2 L1400.2,755.4 L1399.8,757.6 L1399.6,759.7 L1399.6,761.8 L1399.9,764.0 L1399.9,764.0 L1401.4,762.3 L1402.3,760.4 L1403.1,758.5 L1403.9,756.7 L1404.8,754.9 L1405.9,753.1 L1407.3,751.2 L1408.8,749.1 L1410.6,746.9 L1412.4,744.8 L1414.3,742.7 L1416.1,740.7 L1418.1,738.9 L1420.1,737.2 L1422.3,735.4 L1424.5,733.6 L1426.7,731.8 L1428.5,729.4Z"/>
<path fill="#a3cdea" d="M1477.9,680.8 L1475.3,683.0 L1473.0,685.2 L1470.8,687.7 L1468.7,690.5 L1466.9,693.9 L1465.7,698.0 L1465.4,702.8 L1465.7,708.2 L1466.4,713.8 L1467.2,719.2 L1467.8,724.1 L1468.1,728.2 L1468.2,731.6 L1468.3,734.4 L1468.3,736.5 L1468.0,738.0 L1467.5,739.3 L1466.5,740.8 L1464.5,742.6 L1461.3,744.6 L1457.3,746.8 L1453.0,749.1 L1448.8,751.7 L1445.2,754.7 L1442.5,758.0 L1440.7,761.4 L1439.3,764.6 L1438.2,767.6 L1437.2,770.2 L1436.0,772.4 L1434.5,774.4 L1432.8,776.4 L1431.0,778.2 L1429.1,780.1 L1427.2,782.1 L1425.7,784.7 L1425.7,784.7 L1428.5,783.9 L1431.0,782.7 L1433.4,781.4 L1435.8,780.0 L1438.2,778.2 L1440.6,776.0 L1442.7,773.3 L1444.3,770.4 L1445.7,767.5 L1447.2,764.8 L1448.7,762.4 L1450.6,760.3 L1453.3,758.4 L1457.0,756.3 L1461.2,754.2 L1465.5,751.9 L1469.6,749.4 L1472.9,746.4 L1475.0,743.2 L1476.2,740.1 L1476.6,737.0 L1476.5,734.0 L1476.2,731.1 L1475.9,727.6 L1475.4,723.2 L1474.4,718.0 L1473.3,712.6 L1472.3,707.4 L1471.6,702.6 L1471.5,698.6 L1471.9,695.5 L1472.9,692.7 L1474.1,689.9 L1475.6,687.1 L1477.1,684.2 L1477.9,680.8Z"/>
<path fill="#a3cdea" d="M1493.2,612.4 L1493.0,615.0 L1493.4,617.4 L1493.9,619.7 L1494.4,622.0 L1494.9,624.4 L1495.5,627.0 L1496.2,629.9 L1496.8,632.9 L1497.5,636.0 L1498.2,639.2 L1498.9,642.3 L1499.4,645.4 L1500.0,648.6 L1500.7,651.8 L1501.3,654.9 L1501.7,657.8 L1501.9,660.3 L1501.7,662.4 L1501.2,664.1 L1500.2,665.9 L1498.8,667.9 L1497.1,670.0 L1495.4,672.3 L1494.0,674.8 L1493.0,677.4 L1492.3,679.8 L1491.8,682.2 L1491.4,684.6 L1491.2,686.9 L1491.4,689.5 L1491.4,689.5 L1493.2,687.6 L1494.4,685.6 L1495.5,683.5 L1496.6,681.4 L1497.7,679.4 L1498.8,677.6 L1500.2,675.9 L1501.9,674.1 L1503.8,672.2 L1505.8,669.9 L1507.6,667.2 L1508.9,664.0 L1509.3,660.5 L1509.2,657.1 L1508.7,653.7 L1508.0,650.3 L1507.3,647.1 L1506.6,644.0 L1505.8,640.8 L1505.0,637.5 L1504.0,634.3 L1503.0,631.2 L1501.9,628.2 L1500.9,625.4 L1499.8,622.8 L1498.7,620.5 L1497.6,618.3 L1496.3,616.3 L1495.0,614.3 L1493.2,612.4Z"/>
<path fill="#a3cdea" d="M1501.2,596.6 L1503.0,598.0 L1504.9,598.8 L1506.9,599.5 L1508.7,600.2 L1510.2,601.0 L1511.5,601.8 L1512.7,602.7 L1513.9,603.8 L1515.0,604.9 L1515.8,605.9 L1516.3,606.9 L1516.5,607.7 L1516.5,608.6 L1516.0,610.0 L1515.1,611.8 L1514.0,613.7 L1513.0,615.7 L1512.6,617.9 L1512.6,617.9 L1514.4,616.7 L1516.0,615.1 L1517.6,613.5 L1519.0,611.8 L1520.1,609.9 L1520.7,607.7 L1520.4,605.6 L1519.6,603.6 L1518.4,602.0 L1517.0,600.5 L1515.4,599.3 L1513.7,598.2 L1511.8,597.4 L1509.7,596.9 L1507.6,596.5 L1505.5,596.4 L1503.4,596.3 L1501.2,596.6Z"/>
<ellipse cx="1496.4" cy="614.2" rx="3.4" ry="2.6" fill="#a3cdea"/>
</g>
<!-- 20_ship1_sil.svg -->
<g id="s1sil">
<!-- main hull + superstructure silhouette -->
<path class="h" d="M68.5,725 L92.5,710 L140,682.5 L165,670 L197.5,655 L194,578 L213,570 L213,546 L274,523 L282.5,420 Q284,412 300,409 L304,409 L304,406 L316,406 L316,410 Q325,411 326,416 L334,477 L395,455 L410,459.5 L472.5,476 L473,489 L483,486 L512,496 L512,440 L511,436 L549,436 L548,470 L565,494 L577,495 L695,440 L702,424 L730,411.5 L787,394 L838,379.5 L848,372.5 L900,360 L940,352 L970,347 L990,348 Q1001,350 1002,358 L1000,367.5 L994.5,382 L987.5,400 L983,411 L976,434 L968.7,460 L965,471 L955.5,481 L944.7,487.5 L925,510 L887,540 L850,566 L812,585 L775,604 L737,626 L720,637.5 L695,652.5 L670,665 L645,676 L620,687.5 L595,700 L570,715 L520,740 L470,757.5 L420,772.5 L390,780.5 L360,788 L330,794 L300,800 L270,806 L240,813.5 L210,819.5 L180,822.5 L156,821 L141,815 L120,803 L102,789.5 L90,776 L79.5,758 L72,740 Z"/>
<!-- crane boom -->

<!-- kingpost 2 (inverted L to left) -->
<path class="h" d="M711,367 L711,500 L727.5,500 L727.5,359 L686,325 L678.5,327.5 L678.5,334 Z"/>
<!-- kingpost 3 -->
<path class="h" d="M790,378.5 L790,486 L808,486 L808,390 L840,362 L838,356.5 Z"/>
<!-- short post -->
<rect class="h" x="629" y="451" width="11" height="60"/>
<rect class="h" x="726" y="422" width="14" height="60"/>
<!-- bow mast -->
<rect class="h" x="900" y="336" width="8" height="60"/>
<ellipse class="h" cx="905" cy="333" rx="14" ry="5.5"/>
<rect class="h" x="901.2" y="317" width="1.8" height="16"/>
<rect class="h" x="986" y="313" width="1.8" height="36"/>
<!-- superstructure mast moved to ship1c -->
<rect class="h" x="352.5" y="422" width="1.6" height="45"/>
<rect class="h" x="432.5" y="416" width="1.8" height="72"/>
<rect class="h" x="211" y="510" width="1.8" height="55"/>
<circle class="h" cx="406" cy="456" r="8.5"/>
<rect class="h" x="400" y="456" width="12" height="22"/>
<circle class="h" cx="397.5" cy="444" r="4"/>
<rect class="h" x="396.7" y="444" width="1.6" height="14"/>
<circle class="h" cx="454" cy="464" r="3.5"/>
<rect class="h" x="453.2" y="464" width="1.6" height="12"/>
</g>
<!-- 22_ship1_lines_a.svg -->
<g id="s1a">
<path class="l" d="M79,728 L198,662"/>
<path class="l" d="M69,730.4 L210,773.6"/>
<path class="l" d="M79,728 L211.4,769 L316,738 L352,720 L380,709"/>
<path class="l" d="M210,773.6 L211.4,769"/>
<path class="l" d="M160,681 L316,738"/>
<path class="l" d="M118,705 L262,751"/>
<path class="l" d="M172,687 L187,727 L198,760"/>
<path class="l" d="M80,728.4 L187,727 L314,738.4"/>
<path class="l" d="M142,749 L187,727 L268,690"/>
<path class="l" d="M88.0,746.8 L92.5,748.2 Q97.0,749.6 97.0,752.3 L97.0,757.7 Q97.0,760.4 92.8,759.0 L84.2,756.4 Q80.0,755.0 79.8,752.2 L79.2,746.8 Q79.0,744.0 83.5,745.4 Z"/>
<path class="l" d="M110.5,754.0 L115.2,755.5 Q120.0,757.0 119.9,759.4 L119.7,764.0 Q119.6,766.4 115.2,765.0 L106.4,762.4 Q102.0,761.0 101.8,758.5 L101.2,753.5 Q101.0,751.0 105.8,752.5 Z"/>
<path class="l" d="M140.0,763.0 L148.0,765.5 Q156.0,768.0 155.9,771.0 L155.7,777.0 Q155.6,780.0 147.9,777.5 L132.7,772.5 Q125.0,770.0 124.8,767.0 L124.2,761.0 Q124.0,758.0 132.0,760.5 Z"/>
<path class="l" d="M171.0,773.5 L176.5,775.2 Q182.0,777.0 181.9,780.0 L181.7,786.0 Q181.6,789.0 176.4,787.2 L166.2,783.8 Q161.0,782.0 160.8,779.0 L160.2,773.0 Q160.0,770.0 165.5,771.8 Z"/>
<path class="l" d="M194.5,781.2 L199.2,782.8 Q204.0,784.4 203.9,786.9 L203.7,791.9 Q203.6,794.4 199.2,793.0 L190.4,790.4 Q186.0,789.0 185.8,786.2 L185.2,780.8 Q185.0,778.0 189.8,779.6 Z"/>
<path class="l" d="M229.0,781.8 L235.0,779.7 Q241.0,777.6 241.0,780.0 L241.0,784.6 Q241.0,787.0 235.2,789.0 L223.8,793.0 Q218.0,795.0 217.8,792.8 L217.2,788.2 Q217.0,786.0 223.0,783.9 Z"/>
<path class="l" d="M261.0,770.3 L267.5,768.0 Q274.0,765.6 274.0,768.1 L274.0,773.1 Q274.0,775.6 267.8,777.8 L255.2,782.2 Q249.0,784.4 248.8,782.0 L248.2,777.4 Q248.0,775.0 254.5,772.6 Z"/>
<path class="l" d="M210.0,773.6 C209.9,777.3 210.8,789.9 209.6,796.0 C208.4,802.1 206.3,806.3 203.0,810.0 C199.7,813.7 192.2,817.0 190.0,818.4"/>
<path class="l" d="M246.0,760.0 C246.3,765.0 248.5,782.3 248.0,790.0 C247.5,797.7 245.0,801.9 243.0,806.0 C241.0,810.1 237.2,813.0 236.0,814.4"/>
<path class="l" d="M280.0,750.0 C279.8,755.0 280.0,772.0 279.0,780.0 C278.0,788.0 276.2,793.3 274.0,798.0 C271.8,802.7 267.3,806.7 266.0,808.4"/>
<path class="l" d="M317.0,738.0 C316.7,743.0 316.0,760.0 315.0,768.0 C314.0,776.0 312.8,780.9 311.0,786.0 C309.2,791.1 305.2,796.3 304.0,798.4"/>
<path class="lt" d="M69.0,732.0 C69.5,735.3 69.2,744.3 72.0,752.0 C74.8,759.7 78.7,769.7 86.0,778.0 C93.3,786.3 111.0,798.0 116.0,802.0"/>
<path class="lt" d="M117,802 L190,818.4"/>
<path class="lt" d="M211.4,773.6 L316,742.4 L352,724.4 L380,713.6"/>
</g>
<!-- 23_ship1_lines_b.svg -->
<g id="s1b">
<path class="u2" d="M195,573 L214,565 M195,578 L214,570 M195,575.5 L214,567.5 M195.0,573.0 L195.0,578.0 M204.5,569.0 L204.5,574.0 M214.0,565.0 L214.0,570.0 "/>
<path class="lt" d="M195,573 L332,614 M195,578 L332,619 M195,575.5 L332,616.5 M195.0,573.0 L195.0,578.0 M204.8,575.9 L204.8,580.9 M214.6,578.9 L214.6,583.9 M224.4,581.8 L224.4,586.8 M234.1,584.7 L234.1,589.7 M243.9,587.6 L243.9,592.6 M253.7,590.6 L253.7,595.6 M263.5,593.5 L263.5,598.5 M273.3,596.4 L273.3,601.4 M283.1,599.4 L283.1,604.4 M292.9,602.3 L292.9,607.3 M302.6,605.2 L302.6,610.2 M312.4,608.1 L312.4,613.1 M322.2,611.1 L322.2,616.1 M332.0,614.0 L332.0,619.0 "/>
<path class="lt" d="M332,614 L361,602.4 M332,619 L361,607.4 M332,616.5 L361,604.9 M332.0,614.0 L332.0,619.0 M341.7,610.1 L341.7,615.1 M351.3,606.3 L351.3,611.3 M361.0,602.4 L361.0,607.4 "/>
<path class="l" d="M195,573 L195,578 L200,658"/>
<path class="l" d="M333,619 L336,712"/>
<path class="l" d="M361,580 L361,607.4"/>
<path class="lt" d="M361,575.6 L454,541.6 M361,580.4 L454,546.4 M361,578 L454,544 M361.0,575.6 L361.0,580.4 M371.3,571.8 L371.3,576.6 M381.7,568.0 L381.7,572.8 M392.0,564.3 L392.0,569.1 M402.3,560.5 L402.3,565.3 M412.7,556.7 L412.7,561.5 M423.0,552.9 L423.0,557.7 M433.3,549.2 L433.3,554.0 M443.7,545.4 L443.7,550.2 M454.0,541.6 L454.0,546.4 "/>
<path class="lt" d="M316,609 L333,601 L360,607.6"/>
<path class="lt" d="M227,552 L311,576 M227,557 L311,581 M227,554.5 L311,578.5 M227.0,552.0 L227.0,557.0 M236.3,554.7 L236.3,559.7 M245.7,557.3 L245.7,562.3 M255.0,560.0 L255.0,565.0 M264.3,562.7 L264.3,567.7 M273.7,565.3 L273.7,570.3 M283.0,568.0 L283.0,573.0 M292.3,570.7 L292.3,575.7 M301.7,573.3 L301.7,578.3 M311.0,576.0 L311.0,581.0 "/>
<path class="lt" d="M311,576 L330.4,568.4 M311,581 L330.4,573.4 M311,578.5 L330.4,570.9 M311.0,576.0 L311.0,581.0 M320.7,572.2 L320.7,577.2 M330.4,568.4 L330.4,573.4 "/>
<path class="l" d="M227,552 L228,578"/>
<path class="l" d="M311,581 L311,600"/>
<path class="lt" d="M331,573 L331,600 L311,600"/>
<path class="l" d="M331,573 L360,584 L361,580"/>
<path class="lt" d="M331,600 L358,609"/>
<path class="lt" d="M358,585 L358,609"/>
<path class="lt" d="M246,535.6 L311,550.4 M246,540.4 L311,555.2 M246,538 L311,552.8 M246.0,535.6 L246.0,540.4 M255.3,537.7 L255.3,542.5 M264.6,539.8 L264.6,544.6 M273.9,541.9 L273.9,546.7 M283.1,544.1 L283.1,548.9 M292.4,546.2 L292.4,551.0 M301.7,548.3 L301.7,553.1 M311.0,550.4 L311.0,555.2 "/>
<path class="lt" d="M311,550.4 L360,533.6 M311,555.2 L360,538.4 M311,552.8 L360,536 M311.0,550.4 L311.0,555.2 M320.8,547.0 L320.8,551.8 M330.6,543.7 L330.6,548.5 M340.4,540.3 L340.4,545.1 M350.2,537.0 L350.2,541.8 M360.0,533.6 L360.0,538.4 "/>
<path class="l" d="M246,540 L246,560"/>
<path class="l" d="M311,555 L311,576.4"/>
<path class="lt" d="M377,540 L377,551 L392,556 L392,542"/>
<path class="lt" d="M392,556 L454,534"/>
<path class="lt" d="M241,587 L241,574.4 L244,573 L247,574.4 L247,588"/>
<path class="lt" d="M276,598 L276,585.6 L279,584.4 L282,585.6 L282,599"/>
<path class="lt" d="M359,556 L359,544 L362,542.8 L365,544 L365,555"/>
<path class="l" d="M214,604 L223,601 L305,628 L305,634 L298,638 L214,611Z"/>
<path class="lt" d="M214,604 L298,631 L305,628"/>
<path class="lt" d="M298,631 L298,638"/>
<path class="lt" d="M223,601 L223,604.4"/>
<path class="l" d="M214,625 L223,622 L305,649 L305,655 L298,659 L214,632Z"/>
<path class="lt" d="M214,625 L298,652 L305,649"/>
<path class="lt" d="M298,652 L298,659"/>
<path class="lt" d="M223,622 L223,625.4"/>
<path class="l" d="M214,646 L223,643 L305,670 L305,676 L298,680 L214,653Z"/>
<path class="lt" d="M214,646 L298,673 L305,670"/>
<path class="lt" d="M298,673 L298,680"/>
<path class="lt" d="M223,643 L223,646.4"/>
<path class="lt" d="M238,597 L230,608"/>
<path class="lt" d="M278,608 L289,630"/>
<path class="lt" d="M240,618 L231,628"/>
<path class="lt" d="M282,631 L292,651"/>
<path class="lt" d="M240,640 L233,649"/>
<path class="lt" d="M284,653 L292,670"/>
<path class="lt" d="M238,597 L278,608"/>
<path class="lt" d="M199,655 L212,658 L212,673 L200,670"/>
<path class="lt" d="M204,657 L210,658.4 L210,672 L204,670.6Z"/>
<path class="l" d="M218,660 L233,664 L233,683 L218,679Z"/>
<path class="lt" d="M233,664 L238,662 L238,680 L233,683"/>
<path class="lt" d="M238,658 L248,661 L248,683 L240,685"/>
<path class="l" d="M248,668 L288,680 L288,698"/>
<path class="l" d="M300,690 L300,707 L318,711 L323,708 L323,690 L308,686 L300,690 L318,693.6 L323,690"/>
<path class="l" d="M318,693.6 L318,711"/>
<path class="lt" d="M305,691.6 L305,708.4"/>
<path class="lt" d="M310,692.4 L310,709.4"/>
<path class="lt" d="M313.6,693 L313.6,710"/>
<path class="l" d="M339,698 L442,658 L500,634"/>
<path class="l" d="M342,708 L442,668 L500,644"/>
<path class="lt" d="M342,708 L343,714 L357,719 L357,725"/>
<path class="lt" d="M442,658 L442,687"/>
<path class="l" d="M357,719 L500,660"/>
<path class="lt" d="M180,662 L198,655"/>
<rect class="lt" x="346" y="624.4" width="4" height="7.2" rx="1.5"/>
<rect class="lt" x="346" y="645.4" width="4" height="7.2" rx="1.5"/>
<rect class="lt" x="346" y="666.4" width="4" height="7.2" rx="1.5"/>
<rect class="lt" x="374" y="591.4" width="4" height="7.2" rx="1.5"/>
<rect class="lt" x="374" y="612.4" width="4" height="7.2" rx="1.5"/>
<rect class="lt" x="374" y="633.4" width="4" height="7.2" rx="1.5"/>
<rect class="lt" x="374" y="654.4" width="4" height="7.2" rx="1.5"/>
<rect class="lt" x="396" y="583.4" width="4" height="7.2" rx="1.5"/>
<rect class="lt" x="396" y="603.4" width="4" height="7.2" rx="1.5"/>
<rect class="lt" x="396" y="624.4" width="4" height="7.2" rx="1.5"/>
<rect class="lt" x="396" y="645.4" width="4" height="7.2" rx="1.5"/>
<rect class="lt" x="419" y="572.4" width="4" height="7.2" rx="1.5"/>
<rect class="lt" x="419" y="593.4" width="4" height="7.2" rx="1.5"/>
<rect class="lt" x="438" y="565.4" width="4" height="7.2" rx="1.5"/>
<rect class="lt" x="438" y="585.4" width="4" height="7.2" rx="1.5"/>
<rect class="lt" x="461" y="555.4" width="4" height="7.2" rx="1.5"/>
<rect class="lt" x="461" y="576.4" width="4" height="7.2" rx="1.5"/>
<rect class="lt" x="489" y="543.4" width="4" height="7.2" rx="1.5"/>
<rect class="lt" x="489" y="564.4" width="4" height="7.2" rx="1.5"/>
<path class="hs" d="M420.0,635.0 C421.7,633.0 425.0,626.0 430.0,623.0 C435.0,620.0 443.8,618.3 450.0,616.8 C456.2,615.3 463.5,613.3 467.5,613.8 C471.5,614.2 473.8,617.0 473.8,619.5 C473.8,622.0 471.5,626.2 467.5,628.8 C463.5,631.4 456.2,633.5 450.0,635.0 C443.8,636.5 435.0,638.0 430.0,638.0 C425.0,638.0 421.7,635.5 420.0,635.0Z"/>
<path class="lt" d="M426.2,628.0 C430.2,627.0 442.5,623.8 450.0,622.0 C457.5,620.2 467.7,617.8 471.2,617.0"/>
<path class="hs" d="M472.5,607.5 C474.2,605.8 477.9,600.0 482.5,597.5 C487.1,595.0 494.2,593.8 500.0,592.5 C505.8,591.2 514.0,589.4 517.5,590.0 C521.0,590.6 521.6,593.7 521.2,596.2 C520.8,598.7 519.4,602.5 515.0,605.0 C510.6,607.5 500.8,609.7 495.0,611.2 C489.2,612.7 483.8,614.4 480.0,613.8 C476.2,613.2 473.8,608.5 472.5,607.5Z"/>
<path class="lt" d="M478.8,603.0 C482.3,602.1 493.2,599.2 500.0,597.5 C506.8,595.8 516.2,593.8 519.5,593.0"/>
<path d="M416.2,660.0 C416.2,655.2 414.9,638.7 416.2,631.2 C417.5,623.7 422.3,615.0 423.8,615.0 C425.3,615.0 423.8,626.2 425.0,631.2 C426.2,636.2 428.7,640.8 431.2,645.0 C433.7,649.2 438.1,652.9 440.0,656.2 C441.9,659.5 442.1,663.5 442.5,665.0" fill="none" stroke="#3a4c60" stroke-width="3.2" stroke-linecap="round"/>
<path class="l" d="M415.0,660.0 C415.0,655.2 413.8,638.7 415.0,631.2 C416.2,623.7 421.0,615.0 422.5,615.0 C424.0,615.0 422.6,626.2 423.8,631.2 C425.1,636.2 427.5,640.8 430.0,645.0 C432.5,649.2 436.9,652.9 438.8,656.2 C440.7,659.5 440.8,663.5 441.2,665.0"/>
<path class="l" d="M417.8,660.5 C417.8,655.7 416.6,639.3 417.8,631.8 C419.0,624.3 423.8,615.5 425.2,615.5 C426.6,615.5 425.2,626.8 426.5,631.8 C427.8,636.8 430.3,641.3 432.8,645.5 C435.3,649.7 439.6,653.5 441.5,656.8 C443.4,660.1 443.6,664.0 444.0,665.5"/>
<path d="M456.2,611.2 C457.6,609.1 462.4,598.8 464.5,598.8 C466.6,598.8 467.9,608.3 468.8,611.2 C469.7,614.1 469.8,615.4 470.0,616.2" fill="none" stroke="#3a4c60" stroke-width="3.2" stroke-linecap="round"/>
<path class="l" d="M455.0,611.2 C456.4,609.1 461.1,598.8 463.2,598.8 C465.3,598.8 466.6,608.3 467.5,611.2 C468.4,614.1 468.6,615.4 468.8,616.2"/>
<path class="l" d="M457.8,611.8 C459.2,609.7 463.9,599.2 466.0,599.2 C468.1,599.2 469.3,608.9 470.2,611.8 C471.1,614.7 471.3,616.0 471.5,616.8"/>
<path d="M470.8,605.0 C471.3,603.1 472.6,593.4 473.8,593.8 C475.0,594.2 476.8,603.1 478.0,607.5 C479.2,611.9 479.5,615.8 481.2,620.0 C482.9,624.2 485.7,629.0 488.0,633.0 C490.3,637.0 493.5,639.0 495.0,643.8 C496.5,648.6 496.7,659.0 497.0,662.0" fill="none" stroke="#3a4c60" stroke-width="3.2" stroke-linecap="round"/>
<path class="l" d="M469.5,605.0 C470.0,603.1 471.3,593.4 472.5,593.8 C473.7,594.2 475.6,603.1 476.8,607.5 C478.1,611.9 478.3,615.8 480.0,620.0 C481.7,624.2 484.5,629.0 486.8,633.0 C489.1,637.0 492.3,639.0 493.8,643.8 C495.3,648.6 495.5,659.0 495.8,662.0"/>
<path class="l" d="M472.2,605.5 C472.7,603.6 474.0,593.8 475.2,594.2 C476.4,594.6 478.2,603.6 479.5,608.0 C480.8,612.4 481.1,616.2 482.8,620.5 C484.5,624.8 487.2,629.5 489.5,633.5 C491.8,637.5 495.0,639.4 496.5,644.2 C498.0,649.0 498.2,659.5 498.5,662.5"/>
<path d="M504.5,586.2 C505.3,584.8 508.1,577.3 509.5,577.5 C510.9,577.7 511.9,584.2 513.0,587.5 C514.1,590.8 514.8,593.5 516.2,597.5 C517.6,601.5 519.3,607.2 521.2,611.2 C523.1,615.2 526.5,616.5 527.5,621.2 C528.5,625.9 527.5,636.5 527.5,639.5" fill="none" stroke="#3a4c60" stroke-width="3.2" stroke-linecap="round"/>
<path class="l" d="M503.2,586.2 C504.0,584.8 506.8,577.3 508.2,577.5 C509.6,577.7 510.7,584.2 511.8,587.5 C512.9,590.8 513.6,593.5 515.0,597.5 C516.4,601.5 518.1,607.2 520.0,611.2 C521.9,615.2 525.2,616.5 526.2,621.2 C527.2,625.9 526.2,636.5 526.2,639.5"/>
<path class="l" d="M506.0,586.8 C506.8,585.3 509.6,577.8 511.0,578.0 C512.4,578.2 513.4,584.7 514.5,588.0 C515.6,591.3 516.4,594.0 517.8,598.0 C519.2,602.0 520.9,607.8 522.8,611.8 C524.7,615.8 528.0,617.1 529.0,621.8 C530.0,626.5 529.0,637.0 529.0,640.0"/>
<path class="lt" d="M442.5,656.2 L502.5,635.5"/>
<path class="lt" d="M436.2,646.2 L480,631.2"/>
<path class="lt" d="M495,625.5 L527.5,616.2"/>
<path class="lt" d="M463.8,635 L463.8,642.5"/>
<path class="lt" d="M510,616.2 L510,625.5"/>
<path class="lt" d="M442.5,665 L442.5,686.2"/>
<path class="lt" d="M497.5,662.5 L498,670"/>
<path class="lt" d="M527.5,639.5 L528,648"/>
</g>
<!-- 24_ship1_lines_c.svg -->
<g id="s1c">
<path class="h" d="M370,417 L380,418 L380,486 L370,484.4Z"/>
<path class="h" d="M348,411.6 L398,416.4 L398,420 L348,415.2Z"/>
<path class="h" d="M341,402.6 L370,409 L370,412.4 L341,406Z"/>
<path class="h" d="M362,376 L365.6,376 L365.6,411 L362,411Z"/>
<path class="h" d="M358,369 L368,369 L368,376 L358,376Z"/>
<path class="h" d="M368,389.6 L393,393.2 L393,398 L368,394.4Z"/>
<path class="h" d="M376,397 L389,399 L387,411 L372,410Z"/>
<path class="h" d="M343.2,382 L345,382 L345,404 L343.2,404Z"/>
<path class="h" d="M351.2,394 L352.8,394 L352.8,407 L351.2,407Z"/>
<path class="h" d="M392.2,407 L393.8,407 L393.8,417 L392.2,417Z"/>
<path class="h" d="M380,424 L385,423.6 L385,429 L380,429.4Z"/>
<path class="h" d="M380,437 L385,436.6 L385,442 L380,442.4Z"/>
<path class="l" d="M275.0,534.0 C275.7,524.3 277.7,495.0 279.0,476.0 C280.3,457.0 282.3,429.3 283.0,420.0"/>
<path class="l" d="M283.0,420.0 C284.2,419.4 286.2,418.1 290.0,416.4 C293.8,414.7 301.0,410.2 306.0,409.6 C311.0,409.0 316.7,411.8 320.0,413.0 C323.3,414.2 325.0,416.3 326.0,417.0"/>
<path class="l" d="M283.0,420.0 C285.5,420.8 293.2,424.5 298.0,425.0 C302.8,425.5 307.3,424.3 312.0,423.0 C316.7,421.7 323.7,418.0 326.0,417.0"/>
<path class="l" d="M326.0,417.0 C327.3,426.5 331.3,454.8 334.0,474.0 C336.7,493.2 340.7,522.3 342.0,532.0"/>
<path class="l" d="M283.0,443.0 C286.8,444.2 298.5,450.3 306.0,450.0 C313.5,449.7 324.3,442.5 328.0,441.0"/>
<path class="l" d="M280.0,459.0 C284.3,460.2 297.7,466.5 306.0,466.0 C314.3,465.5 326.0,457.7 330.0,456.0"/>
<path class="lt" d="M290,540 L290,521 L298,521 L298,541"/>
<path class="lt" d="M292.4,540 L292.4,527 L295.6,527 L295.6,541"/>
<ellipse class="l" cx="310.4" cy="409.6" rx="6.4" ry="2.8"/>
<path class="l" d="M304,409.6 L304,417"/>
<path class="l" d="M316.8,409.6 L316.8,416"/>
<ellipse class="lt" cx="299" cy="419.6" rx="4.4" ry="2"/>
<path class="lt" d="M245,536 L307,547 M245,541 L307,552 M245,538.5 L307,549.5 M245.0,536.0 L245.0,541.0 M253.9,537.6 L253.9,542.6 M262.7,539.1 L262.7,544.1 M271.6,540.7 L271.6,545.7 M280.4,542.3 L280.4,547.3 M289.3,543.9 L289.3,548.9 M298.1,545.4 L298.1,550.4 M307.0,547.0 L307.0,552.0 "/>
<path class="lt" d="M307,547 L376,522 M307,552 L376,527 M307,549.5 L376,524.5 M307.0,547.0 L307.0,552.0 M316.9,543.4 L316.9,548.4 M326.7,539.9 L326.7,544.9 M336.6,536.3 L336.6,541.3 M346.4,532.7 L346.4,537.7 M356.3,529.1 L356.3,534.1 M366.1,525.6 L366.1,530.6 M376.0,522.0 L376.0,527.0 "/>
<path class="lt" d="M376,522 L394,527.6 M376,527 L394,532.6 M376,524.5 L394,530.1 M376.0,522.0 L376.0,527.0 M385.0,524.8 L385.0,529.8 M394.0,527.6 L394.0,532.6 "/>
<path class="lt" d="M394,527.6 L426,515.6 M394,532.6 L426,520.6 M394,530.1 L426,518.1 M394.0,527.6 L394.0,532.6 M404.7,523.6 L404.7,528.6 M415.3,519.6 L415.3,524.6 M426.0,515.6 L426.0,520.6 "/>
<path class="lt" d="M426,515.6 L452,523 M426,520.6 L452,528 M426,518.1 L452,525.5 M426.0,515.6 L426.0,520.6 M434.7,518.1 L434.7,523.1 M443.3,520.5 L443.3,525.5 M452.0,523.0 L452.0,528.0 "/>
<path class="lt" d="M452,523 L480,512 M452,528 L480,517 M452,525.5 L480,514.5 M452.0,523.0 L452.0,528.0 M461.3,519.3 L461.3,524.3 M470.7,515.7 L470.7,520.7 M480.0,512.0 L480.0,517.0 "/>
<path class="l" d="M245,536 L245,552"/>
<path class="u2" d="M215,536 L273,514.4 M215,540.8 L273,519.2 M215,538.4 L273,516.8 M215.0,536.0 L215.0,540.8 M221.4,533.6 L221.4,538.4 M227.9,531.2 L227.9,536.0 M234.3,528.8 L234.3,533.6 M240.8,526.4 L240.8,531.2 M247.2,524.0 L247.2,528.8 M253.7,521.6 L253.7,526.4 M260.1,519.2 L260.1,524.0 M266.6,516.8 L266.6,521.6 M273.0,514.4 L273.0,519.2 "/>
<path class="l" d="M334,478 L398,498 L473,475"/>
<path class="l" d="M398,498 L398,520"/>
<path class="l" d="M334,478 L336,500 L398,520 L422,512 L422,490 L398,498"/>
<path class="l" d="M422,490 L440,496 L440,486"/>
<path class="lt" d="M440,496 L440,512 L422,512"/>
<path class="lt" d="M385,515 L385,503 L387,501.6 L389.6,503 L389.6,516.4"/>
<path class="lt" d="M428,498 L433.6,499.6 L433.6,503 L428,501.4Z"/>
<path class="lt" d="M442,498 L456,493.6 L456,498 L442,502.4Z"/>
<path class="lt" d="M440,485 L473,476 M440,490 L473,481 M440,487.5 L473,478.5 M440.0,485.0 L440.0,490.0 M448.2,482.8 L448.2,487.8 M456.5,480.5 L456.5,485.5 M464.8,478.2 L464.8,483.2 M473.0,476.0 L473.0,481.0 "/>
<path class="l" d="M473,475 L474,482 L459,493"/>
<path class="u2" d="M334,472 L396,451.6 M334,476.4 L396,456 M334,474.2 L396,453.8 M334.0,472.0 L334.0,476.4 M341.8,469.4 L341.8,473.8 M349.5,466.9 L349.5,471.3 M357.2,464.4 L357.2,468.8 M365.0,461.8 L365.0,466.2 M372.8,459.2 L372.8,463.6 M380.5,456.7 L380.5,461.1 M388.2,454.2 L388.2,458.6 M396.0,451.6 L396.0,456.0 "/>
<path class="l" d="M459,493 L479,485 L522,498 L498,505 L459,493"/>
<path class="l" d="M459,493 L459,505 L440,512"/>
<path class="lt" d="M459,505 L496,516 L496,504"/>
<path class="l" d="M522,498 L523,512 L508,519 L508,526 L480,518 L480,510 L508,519"/>
<path class="lt" d="M498,505 L498,516"/>
<path class="lt" d="M480,518 L483,536 L492,524"/>
<path class="l" d="M370,418 L370,484"/>
<path class="l" d="M380,419 L380,486"/>
<path class="l" d="M370.0,484.0 C370.8,484.4 373.3,486.1 375.0,486.4 C376.7,486.7 379.2,486.1 380.0,486.0"/>
<path class="lt" d="M349.6,413.6 L396.4,418.2"/>
<ellipse class="l" cx="407" cy="458.4" rx="9" ry="9"/>
<path class="l" d="M399,464 L399,477"/>
<path class="l" d="M415,464 L415,477"/>
<path class="l" d="M399.0,477.0 C400.3,477.4 404.3,479.6 407.0,479.6 C409.7,479.6 413.7,477.4 415.0,477.0"/>
<ellipse class="lt" cx="397.4" cy="446" rx="3.6" ry="3.6"/>
<ellipse class="lt" cx="454" cy="464" rx="2.8" ry="2.8"/>
<ellipse class="l" cx="530" cy="439" rx="19" ry="5"/>
<ellipse class="lt" cx="530" cy="441.6" rx="19" ry="5"/>
<path class="l" d="M513,442 L513,534"/>
<path class="l" d="M549,442 L549,488"/>
<path class="lt" d="M531,448 L538,512"/>
<path class="lt" d="M531,448 L548,445"/>
<path class="lt" d="M517,439 L517,428 L521,426.4 L526,428 L526,439"/>
<path class="lt" d="M535,440 L535,430 L539,428.4 L544,430 L544,440"/>
<ellipse class="l" cx="536" cy="540" rx="22.4" ry="6"/>
<ellipse class="l" cx="536" cy="547" rx="25" ry="6.8"/>
<ellipse class="lt" cx="536" cy="552" rx="25" ry="6.8"/>
<path class="lt" d="M376,527 L378,560"/>
<path class="lt" d="M392,534 L426,521 L452,529"/>
<path class="lt" d="M426,521 L426,560"/>
<path class="lt" d="M452,529 L452,546 L392,560"/>
<path class="lt" d="M358,556 L358,545 L361,543 L364.4,545 L364.4,557"/>
<path class="lt" d="M488,550 L488,544 L491.6,543 L491.6,549Z"/>
<path class="l" d="M480,536 L480,560"/>
<path class="lt" d="M508,526 L508,560"/>
</g>
<!-- 25_ship1_lines_d.svg -->
<g id="s1d">
<path class="h" d="M622,327.5 L628,322 L636,320 L640.5,327 L618.4,389.5 L587,471 L560,530 L546,541 L527,537Z"/>
<path class="h" d="M628,322 L634,317.5 L642,318 L644,321 L640,327 Z"/>
<path class="h" d="M516.5,427 L525.5,426 L526,439 L517,439Z"/>
<path class="h" d="M535,429 L544,428 L544.5,441 L535.5,441Z"/>
<path class="h" d="M546,445 L552,467 L556,500 L548,500Z"/>
<path class="h" d="M629,451 L640,452 L640,544 L629,544Z"/>
<path class="lt" d="M624,329 L531,536"/>
<path class="lt" d="M631,329 L538,538"/>
<path class="lt" d="M637,331 L617,389 L585,471 L557,528"/>
<path class="lt" d="M632,336 L611,390 L579,471 L549,535"/>
<path class="l" d="M601.7,389 L618.4,395"/>
<path class="lt" d="M601,392 L617.5,398"/>
<path class="l" d="M565.7,471 L587,480"/>
<path class="lt" d="M565,474 L586,483"/>
<path d="M618.4,330.3 L520.3,428.4" stroke="#33455a" stroke-width="2.3" fill="none"/>
<path d="M618.4,330.3 L520.3,428.4" stroke="#dfe9f2" stroke-width="0.45" fill="none"/>
<path d="M617,334 L527.7,432" stroke="#33455a" stroke-width="2.3" fill="none"/>
<path d="M617,334 L527.7,432" stroke="#dfe9f2" stroke-width="0.45" fill="none"/>
<path d="M609,354.4 L538,430" stroke="#33455a" stroke-width="2.3" fill="none"/>
<path d="M609,354.4 L538,430" stroke="#dfe9f2" stroke-width="0.45" fill="none"/>
<path d="M602.7,369 L546,433" stroke="#33455a" stroke-width="2.3" fill="none"/>
<path d="M602.7,369 L546,433" stroke="#dfe9f2" stroke-width="0.45" fill="none"/>
<path class="lt" d="M711,367 L711,452"/>
<path class="lt" d="M727.5,360 L727.5,424"/>
<path class="lt" d="M720,364 L720,450"/>
<path class="lt" d="M711,367 L680,334"/>
<path class="lt" d="M727.5,359 L686,325.5"/>
<path d="M679,358 L680,440" stroke="#3a4c60" stroke-width="1.5" fill="none"/>
<path d="M684,358 L685,440" stroke="#3a4c60" stroke-width="1.5" fill="none"/>
<path d="M690,358 L691,440" stroke="#3a4c60" stroke-width="1.5" fill="none"/>
<path d="M695,358 L696,440" stroke="#3a4c60" stroke-width="1.5" fill="none"/>
<path d="M678,360 Q677,400 679,438 Q687,444 696,438 Q698,400 696,360 M686,338 L686,360" stroke="#3a4c60" stroke-width="1.3" fill="none"/>
<path class="l" d="M568,497 L608,478 L688,440"/>
<path class="lt" d="M608,483 L688,445"/>
<path class="l" d="M629,452 L629,600"/>
<path class="l" d="M640,453 L640,548"/>
<path class="lt" d="M634,456 L634,600"/>
<path class="lt" d="M629,452 L634,450 L640,453 L635,455.6 L629,452"/>
<path class="l" d="M566,521 L599,507 L634,519 L585,540 L566,521"/>
<path class="l" d="M566,521 L566,532"/>
<path class="l" d="M585,540 L586,558"/>
<path class="l" d="M585,550 L604,558 L632,548"/>
<path class="l" d="M604,558 L604,578"/>
<path class="lt" d="M586,558 L590,576 L604,580 L618,574 L618,560"/>
<path class="lt" d="M608,544 L608,552"/>
<path class="lt" d="M620,538 L620,550"/>
<path class="l" d="M660,467 L681,458 L710,468 L680,486 L660,467"/>
<path class="l" d="M660,467 L661,488"/>
<path class="l" d="M680,486 L680,504"/>
<path class="lt" d="M661,488 L680,504 L700,494"/>
<path class="lt" d="M710,468 L710,486"/>
<ellipse class="lt" cx="663" cy="499" rx="8" ry="2.8"/>
<path class="lt" d="M656,500 L656,514"/>
<path class="lt" d="M670,500 L670,514"/>
<path class="l" d="M700,452 L780,420"/>
<path class="l" d="M700,452 L728,462 L800,432"/>
<path class="lt" d="M728,462 L728,520"/>
<path class="l" d="M728,420 L728,520"/>
<path class="l" d="M740,420 L740,522"/>
<path class="lt" d="M735,420 L735,521"/>
<path class="lt" d="M740,496 L754,502 L754,516 L740,522"/>
<path class="l" d="M644,548 L800,478"/>
<path class="lt" d="M646,560 L800,499"/>
<path class="lt" d="M644,548 L646,560"/>
<path class="lt" d="M728,524 L800,494"/>
<path class="lt" d="M593,591 L602,585 L612,589 L603,594 L593,591"/>
<path class="lt" d="M595,592 L595,598"/>
<path class="lt" d="M602.4,594 L602.4,601"/>
<path class="lt" d="M610,590 L610,595"/>
<path class="l" d="M515.0,556.0 C515.3,558.7 516.5,567.0 517.0,572.0 C517.5,577.0 518.5,579.3 518.0,586.0 C517.5,592.7 514.7,607.7 514.0,612.0"/>
<path class="l" d="M557.0,558.0 C557.0,560.7 556.7,569.3 557.0,574.0 C557.3,578.7 557.7,579.7 559.0,586.0 C560.3,592.3 564.0,607.7 565.0,612.0"/>
<path class="lt" d="M518.0,586.0 C521.3,587.0 531.2,592.0 538.0,592.0 C544.8,592.0 555.5,587.0 559.0,586.0"/>
<path class="l" d="M340,696.2 L541.2,636.2 L541.2,643.8 L570,632.5 L570,626.2 L595,613.8 L720,567.5"/>
<path class="lt" d="M342.5,711.2 L442.5,677.5 L442.5,686.2"/>
<path class="lt" d="M357.5,720 L442.5,686.2 L495,663.8"/>
<path class="lt" d="M340,696.2 L342.5,711.2 L357.5,720"/>
<path class="lt" d="M320,725 L357.5,720"/>
<path class="l" d="M556,641 L872,501.5 Q880,500 879,508 Q878,515 872,518.5 L556,664.5 Q547,667 546,657 Q546,646 556,641Z"/>
<path class="lt" d="M575.0,632.6 L575.0,655.7"/>
<path class="lt" d="M606.6,618.7 L606.6,641.1"/>
<path class="lt" d="M641.3,603.3 L641.3,625.1"/>
<path class="lt" d="M682.4,585.2 L682.4,606.1"/>
<path class="lt" d="M720.3,568.5 L720.3,588.6"/>
<path class="lt" d="M755.1,553.1 L755.1,572.5"/>
<path class="lt" d="M786.7,539.2 L786.7,557.9"/>
<path class="lt" d="M815.1,526.6 L815.1,544.8"/>
<path class="lt" d="M840.4,515.5 L840.4,533.1"/>
<path class="lt" d="M859.4,507.1 L859.4,524.3"/>
<path class="lt" d="M632,619 L715,581 L715,587 L632,625Z"/>
<path class="lt" d="M240.0,805.0 C253.3,802.0 290.0,794.2 320.0,787.0 C350.0,779.8 386.7,771.8 420.0,762.0 C453.3,752.2 486.7,742.0 520.0,728.0 C553.3,714.0 586.7,694.7 620.0,678.0 C653.3,661.3 688.0,645.0 720.0,628.0 C752.0,611.0 784.2,592.3 812.0,576.0 C839.8,559.7 865.7,544.7 887.0,530.0 C908.3,515.3 928.2,498.0 940.0,488.0 C951.8,478.0 955.0,473.0 958.0,470.0"/>
<path class="l" d="M790.0,387.6 C799.7,384.9 829.7,376.3 848.0,371.6 C866.3,366.9 884.7,362.9 900.0,359.6 C915.3,356.3 928.3,353.7 940.0,351.6 C951.7,349.5 961.7,347.5 970.0,347.0 C978.3,346.5 985.0,347.1 990.0,348.4 C995.0,349.7 998.3,353.9 1000.0,355.0"/>
<path class="lt" d="M848.0,375.0 C856.7,373.1 884.7,366.8 900.0,363.6 C915.3,360.4 928.3,358.0 940.0,356.0 C951.7,354.0 962.0,352.0 970.0,351.6 C978.0,351.2 983.8,352.2 988.0,353.6 C992.2,355.0 993.8,358.9 995.0,360.0"/>
<path class="u2" d="M702,418 L727.8,407.3 M702,424.5 L727.8,413.8 M702,421.25 L727.8,410.55 M702.0,418.0 L702.0,424.5 M710.6,414.4 L710.6,420.9 M719.2,410.9 L719.2,417.4 M727.8,407.3 L727.8,413.8 "/>
<path class="u2" d="M727.8,407.3 L789.6,387.8 M727.8,413.8 L789.6,394.3 M727.8,410.55 L789.6,391.05 M727.8,407.3 L727.8,413.8 M736.6,404.5 L736.6,411.0 M745.5,401.7 L745.5,408.2 M754.3,398.9 L754.3,405.4 M763.1,396.2 L763.1,402.7 M771.9,393.4 L771.9,399.9 M780.8,390.6 L780.8,397.1 M789.6,387.8 L789.6,394.3 "/>
<path class="u2" d="M808,382.5 L840,373 M808,389 L840,379.5 M808,385.75 L840,376.25 M808.0,382.5 L808.0,389.0 M816.0,380.1 L816.0,386.6 M824.0,377.8 L824.0,384.2 M832.0,375.4 L832.0,381.9 M840.0,373.0 L840.0,379.5 "/>
<path class="l" d="M995.0,360.0 C994.5,363.0 996.2,370.3 992.0,378.0 C987.8,385.7 978.7,397.7 970.0,406.0 C961.3,414.3 950.0,421.0 940.0,428.0 C930.0,435.0 919.0,443.2 910.0,448.0 C901.0,452.8 890.0,455.5 886.0,457.0"/>
<path class="l" d="M1000.0,356.0 C999.5,359.7 1001.2,369.3 997.0,378.0 C992.8,386.7 983.8,399.2 975.0,408.0 C966.2,416.8 954.5,423.7 944.0,431.0 C933.5,438.3 921.5,446.8 912.0,452.0 C902.5,457.2 891.2,460.3 887.0,462.0"/>
<path class="lt" d="M994.7,363.4 L999.7,360.3"/>
<path class="lt" d="M994.7,368.4 L999.7,366.5"/>
<path class="lt" d="M993.8,373.8 L998.8,373.1"/>
<path class="lt" d="M990.6,380.4 L995.6,380.7"/>
<path class="lt" d="M985.0,388.8 L990.0,389.8"/>
<path class="lt" d="M977.8,397.7 L982.9,399.3"/>
<path class="lt" d="M970.0,406.0 L975.0,408.0"/>
<path class="lt" d="M961.6,413.1 L966.4,415.5"/>
<path class="lt" d="M952.4,419.6 L956.9,422.3"/>
<path class="lt" d="M943.0,425.9 L947.2,428.8"/>
<path class="lt" d="M933.9,432.3 L937.6,435.5"/>
<path class="lt" d="M924.6,438.8 L927.6,442.3"/>
<path class="lt" d="M915.6,444.7 L918.0,448.5"/>
<path class="lt" d="M907.4,449.3 L909.2,453.4"/>
<path class="lt" d="M900.0,452.4 L901.5,456.8"/>
<path class="lt" d="M893.0,454.6 L894.3,459.3"/>
<path class="lt" d="M886,457 L809,442 M886,462 L809,447 M886,459.5 L809,444.5 M886.0,457.0 L886.0,462.0 M877.4,455.3 L877.4,460.3 M868.9,453.7 L868.9,458.7 M860.3,452.0 L860.3,457.0 M851.8,450.3 L851.8,455.3 M843.2,448.7 L843.2,453.7 M834.7,447.0 L834.7,452.0 M826.1,445.3 L826.1,450.3 M817.6,443.7 L817.6,448.7 M809.0,442.0 L809.0,447.0 "/>
<path class="lt" d="M809,442 L740,422 M809,447 L740,427 M809,444.5 L740,424.5 M809.0,442.0 L809.0,447.0 M800.4,439.5 L800.4,444.5 M791.8,437.0 L791.8,442.0 M783.1,434.5 L783.1,439.5 M774.5,432.0 L774.5,437.0 M765.9,429.5 L765.9,434.5 M757.2,427.0 L757.2,432.0 M748.6,424.5 L748.6,429.5 M740.0,422.0 L740.0,427.0 "/>
<path class="l" d="M886,462 L880,482 L868,492 L844,500"/>
<path class="lt" d="M841,448 L852,478"/>
<path class="lt" d="M848,449 L858,478"/>
<path class="lt" d="M1000.0,356.0 C999.7,360.3 1000.0,373.3 998.0,382.0 C996.0,390.7 991.7,399.3 988.0,408.0 C984.3,416.7 979.5,425.3 976.0,434.0 C972.5,442.7 968.5,455.7 967.0,460.0"/>
<path class="lt" d="M967.0,460.0 C962.5,465.0 947.8,482.3 940.0,490.0 C932.2,497.7 926.7,500.7 920.0,506.0 C913.3,511.3 903.3,519.3 900.0,522.0"/>
<path class="l" d="M900,340 L900,394"/>
<path class="l" d="M908,340 L908,395"/>
<path class="l" d="M900.0,394.0 C900.7,394.4 902.7,396.2 904.0,396.4 C905.3,396.6 907.3,395.2 908.0,395.0"/>
<ellipse class="l" cx="905" cy="333" rx="14" ry="5.2"/>
<ellipse class="lt" cx="905" cy="335.6" rx="14" ry="5.2"/>
<path class="l" d="M790,378 L790,485 L800,487 L800,384"/>
<path class="lt" d="M800,384 L808,381 L808,476"/>
<path class="l" d="M790,378 L839,357 L839.4,364.4 L808,381"/>
<path class="lt" d="M791,378 L796,376 L800,378.4"/>
<path class="lt" d="M821.0,390.0 C820.9,396.7 820.3,414.7 820.5,430.0 C820.7,445.3 821.8,473.3 822.0,482.0"/>
<path class="lt" d="M828.0,390.0 C827.9,396.7 827.3,414.7 827.5,430.0 C827.7,445.3 828.8,473.3 829.0,482.0"/>
<path class="lt" d="M834.0,390.0 C833.9,396.7 833.3,414.7 833.5,430.0 C833.7,445.3 834.8,473.3 835.0,482.0"/>
<path class="lt" d="M820,390 L840,389 L840,476 L824,482"/>
<path class="l" d="M803,482 L807,478 L824,481 L826,490 L822,498 L806,495 L803,482"/>
<path class="lt" d="M807,485 L807,496"/>
<path class="lt" d="M812,486 L812,497"/>
<path class="lt" d="M818,487 L818,497.6"/>
<path class="lt" d="M878,392 L886,390.4 L886,399.4 L878,401Z"/>
<path class="lt" d="M882,391.2 L882,400.2"/>
<path class="lt" d="M886,375 L894,373.4 L894,382.4 L886,384Z"/>
<path class="lt" d="M890,374.2 L890,383.2"/>
<path class="lt" d="M929,382 L937,380.4 L937,389.4 L929,391Z"/>
<path class="lt" d="M933,381.2 L933,390.2"/>
<path class="lt" d="M946,394 L954,392.4 L954,401.4 L946,403Z"/>
<path class="lt" d="M950,393.2 L950,402.2"/>
<path class="lt" d="M924,418 L932,416.4 L932,425.4 L924,427Z"/>
<path class="lt" d="M928,417.2 L928,426.2"/>
<path class="lt" d="M878,442 L886,440.4 L886,449.4 L878,451Z"/>
<path class="lt" d="M882,441.2 L882,450.2"/>
<path class="lt" d="M964,362 L972,360.4 L972,369.4 L964,371Z"/>
<path class="lt" d="M968,361.2 L968,370.2"/>
<path class="lt" d="M842,378 L850,376.4 L850,385.4 L842,387Z"/>
<path class="lt" d="M846,377.2 L846,386.2"/>
<path class="lt" d="M745,410 L753,408.4 L753,417.4 L745,419Z"/>
<path class="lt" d="M749,409.2 L749,418.2"/>
<ellipse class="lt" cx="933" cy="367" rx="2.8" ry="1.68"/>
<ellipse class="lt" cx="959" cy="380" rx="2.8" ry="1.68"/>
<ellipse class="lt" cx="983" cy="372.4" rx="2.4" ry="1.44"/>
<ellipse class="lt" cx="975.6" cy="388" rx="2.4" ry="1.44"/>
<ellipse class="lt" cx="923" cy="399" rx="1.8" ry="1.08"/>
<ellipse class="lt" cx="877" cy="388.4" rx="1.6" ry="0.96"/>
<ellipse class="lt" cx="916" cy="378" rx="5.6" ry="3.2"/>
<path class="lt" d="M921,384 L965,368"/>
<path class="lt" d="M923,386 L966,370"/>
<path class="lt" d="M822.0,510.0 C822.7,510.7 824.0,513.7 826.0,514.0 C828.0,514.3 827.0,514.7 834.0,512.0 C841.0,509.3 861.3,499.7 868.0,498.0 C874.7,496.3 873.7,500.0 874.0,502.0 C874.3,504.0 874.3,507.0 870.0,510.0 C865.7,513.0 856.3,516.7 848.0,520.0 C839.7,523.3 824.7,528.3 820.0,530.0"/>
<path class="lt" d="M740,457 L772,448 L790,458"/>
<path class="lt" d="M740,470 L788,454"/>
<path class="lt" d="M740,490 L756,494 L756,510 L740,506"/>
</g>
<!-- 30_ship2_sil.svg -->
<g id="s2sil">
<path class="h" d="M717.5,955 L829,877.5 L840,885 L862,865 L882,837 L890,822 L1085,699 L1086,690 L1105,684 L1105,668 L1122,666 L1123.8,647 L1126.6,645 L1126.6,630 L1141,628 L1143,618 L1143,600 Q1155,592 1161,596 L1161,592 Q1175,584 1189,592 L1189,614 L1205,608.6 L1212,597 L1222,553 L1232,535 L1256,529 Q1256,510 1264,510 Q1272,510 1272,526 L1290,523 L1299,521 L1296,435 L1293,358 L1314,358 L1314,404 L1321,480 L1323,500 L1336,502 L1356,510 L1364,520 Q1364,512 1374,512 Q1384,512 1385,524 L1386,527.5 L1531.5,481.5 Q1536,480 1536.5,484 L1536.5,509 L1529.5,537 L1515.7,569.4 L1499.5,597 L1483,625 L1470,640 L1450,665 L1425,690 L1400,712.5 L1375,732.5 L1350,752.5 L1325,772.5 L1300,790 L1275,807.5 L1250,823.75 L1225,840 L1200,855 L1150,890 L1100,925 L1050,955 L1000,985 L950,1012.5 L900,1034 L857.5,1053 L850,1055.6 L837.5,1055.4 L825,1053 L812.5,1050 L795,1048.7 L787.5,1046 L775,1038.7 L762.5,1030 L750,1020 L737.5,1007.5 L725,986 L718.7,967.5 Z"/>
</g>
<!-- 32_ship2_a.svg -->
<g id="s2a">

<path d="M717.5,955 L828.8,877.5 L828.8,887.5 L718.8,965Z" fill="#5b6f85" stroke="none"/>
<path class="l" d="M717.5,955 L828.8,877.5 M717.5,965 L828.8,887.5 M717.5,955.0 L717.5,965.0 M729.9,946.4 L729.9,956.4 M742.2,937.8 L742.2,947.8 M754.6,929.2 L754.6,939.2 M767.0,920.6 L767.0,930.6 M779.3,911.9 L779.3,921.9 M791.7,903.3 L791.7,913.3 M804.1,894.7 L804.1,904.7 M816.4,886.1 L816.4,896.1 M828.8,877.5 L828.8,887.5 "/>
<path class="l" d="M718.8,965.0 C739.0,951.7 816.0,901.5 840.0,885.0 C864.0,868.5 855.4,874.1 862.5,866.2 C869.6,858.3 877.9,846.0 882.5,837.5 C887.1,829.0 888.8,818.8 890.0,815.0"/>
<path class="l" d="M718.8,965 L856.2,1007.5 L950,965 L1000,940 L1045,915"/>
<path class="l" d="M717.5,955 L718.8,965"/>
<path class="l" d="M856.2,1007.5 L850,1057.5"/>
<path class="lt" d="M742.5,965 L872.5,1005"/>
<path class="lt" d="M872.5,1005 L1003.8,936.2"/>
<path class="lt" d="M735.2,970.1 L735.8,979.6"/>
<path class="lt" d="M756.7,976.7 L757.2,986.2"/>
<path class="lt" d="M778.2,983.4 L778.6,992.9"/>
<path class="lt" d="M799.6,990 L800.1,999.5"/>
<path class="lt" d="M821,996.6 L821.6,1006.1"/>
<path class="lt" d="M842.5,1003.2 L843,1012.8"/>
<path class="lt" d="M875.1,998.2 L875.1,1007"/>
<path class="lt" d="M899.4,986.4 L899.4,995.1"/>
<path class="lt" d="M923.7,974.5 L923.7,983.2"/>
<path class="lt" d="M947.9,962.6 L947.9,971.3"/>
<path class="lt" d="M972.2,950.7 L972.2,959.4"/>
<path class="lt" d="M996.5,938.8 L996.5,947.5"/>
<path class="lt" d="M1020.7,926.9 L1020.7,935.6"/>
<path class="lt" d="M1045,915 L1045,923.8"/>
<path class="lt" d="M720,975 L855,1017.5 L950,974.5 L1045,924.5"/>
<path d="M841.2,908.8 L950,947.5 L872.5,994.2 L765.5,953.8Z" fill="none" stroke="#ffffff" stroke-width="2.6" stroke-linejoin="miter"/>
<path d="M783.8,924.5 L912.5,968.8" stroke="#ffffff" stroke-width="2.8" stroke-dasharray="9 7" fill="none"/>
<path class="l" d="M937.5,892.5 L892.5,917.5"/>
<path class="l" d="M955,896.2 L912.5,922.5"/>
<ellipse class="lt" cx="783.8" cy="1000" rx="3.5" ry="3.5"/>
<ellipse class="lt" cx="785" cy="985" rx="2.25" ry="2.25"/>
<ellipse class="lt" cx="826.2" cy="1028.8" rx="3.25" ry="3.25"/>
<ellipse class="lt" cx="838.8" cy="1035" rx="3.25" ry="3.25"/>
<ellipse class="lt" cx="803.8" cy="981.2" rx="2.5" ry="2.5"/>
<ellipse class="lt" cx="818.8" cy="977.5" rx="2" ry="2"/>
<path class="lt" d="M917.5,973.8 L933.8,980"/>
<path class="lt" d="M850.0,1051.2 C858.3,1047.5 883.3,1036.3 900.0,1028.8 C916.7,1021.3 933.3,1014.3 950.0,1006.2 C966.7,998.1 991.7,984.4 1000.0,980.0"/>
<path class="lt" d="M737.5,1012.5 L851,1053"/>
<path class="lt" d="M838.8,885 L838.8,877.5 L842.5,876.2 L842.5,886.2"/>
<path class="lt" d="M845,881.2 L845,875 L848.8,874 L848.8,882.5"/>
<path class="l" d="M1045.0,915.0 C1047.5,911.2 1056.2,899.2 1060.0,892.5 C1063.8,885.8 1065.8,879.6 1067.5,875.0 C1069.2,870.4 1069.6,866.7 1070.0,865.0"/>
<path class="l" d="M890,815 L890,807.5"/>
<path class="lt" d="M886.2,827.5 L926.2,841.2 L926.2,862.5"/>
<path class="lt" d="M893.8,837.5 L893.8,855 L900,857.5 L900,839.5"/>
<path class="lt" d="M920,862.5 L927.5,833.8"/>
<path class="lt" d="M925,865 L932.5,835"/>
<path class="lt" d="M920.8,859.6 L925.8,862"/>
<path class="lt" d="M921.8,855.8 L926.8,858"/>
<path class="lt" d="M922.8,852 L927.8,854"/>
<path class="lt" d="M923.8,848.1 L928.8,850"/>
<path class="lt" d="M924.8,844.3 L929.8,846"/>
<path class="lt" d="M925.8,840.5 L930.8,842"/>
<path class="lt" d="M926.8,836.6 L931.8,838"/>
<path class="u2" d="M890,807.5 L950,778.8 M890,814.5 L950,785.8 M890,811 L950,782.2 M890.0,807.5 L890.0,814.5 M898.6,803.4 L898.6,810.4 M907.1,799.3 L907.1,806.3 M915.7,795.2 L915.7,802.2 M924.3,791.1 L924.3,798.1 M932.9,787.0 L932.9,794.0 M941.4,782.9 L941.4,789.9 M950.0,778.8 L950.0,785.8 "/>
<path class="lt" d="M890,815 L950,786.2"/>

</g>
<!-- 34_ship2_b.svg -->
<g id="s2b">

<path class="l" d="M980.1,841 L1035.6,859.4 L1100.3,817.1 L1063.3,806.3"/>
<path class="l" d="M979.4,843.3 L979.4,889.5"/>
<path d="M980.1,840.2 L1039.4,805.5 L1041,828.6 L1006.3,851Z" fill="#e98031" stroke="#b5571a" stroke-width="1"/>
<path d="M980.1,840.2 L1039.4,805.5 L1039.8,808.1 L986.3,842.5Z" fill="#f6b07a" stroke="none"/>
<path d="M990.9,839.5 L990.9,844.6" stroke="#b5571a" stroke-width="1.1" fill="none"/>
<path d="M998.6,834.6 L998.6,847.8" stroke="#b5571a" stroke-width="1.1" fill="none"/>
<path d="M1007.9,828.6 L1007.9,850" stroke="#b5571a" stroke-width="1.1" fill="none"/>
<path d="M1017.1,822.7 L1017.1,844" stroke="#b5571a" stroke-width="1.1" fill="none"/>
<path d="M1025.6,817.2 L1025.6,838.6" stroke="#b5571a" stroke-width="1.1" fill="none"/>
<path d="M1033.3,812.3 L1033.3,833.6" stroke="#b5571a" stroke-width="1.1" fill="none"/>
<path class="hs" d="M1041,806.3 L1058.7,818.6 L1041.8,827.9Z"/>
<path class="lt" d="M1011.7,851.7 L1031,857.9"/>
<path class="lt" d="M1017.9,847.8 L1038.3,853.3"/>
<path class="lt" d="M1024,843.8 L1045.6,848.7"/>
<path class="lt" d="M1030.2,839.9 L1052.9,844"/>
<path class="lt" d="M1036.4,835.9 L1060.2,839.4"/>
<path class="lt" d="M1042.5,832 L1067.6,834.8"/>
<path class="lt" d="M1048.7,828.1 L1074.9,830.2"/>
<path class="lt" d="M1054.9,824.1 L1082.2,825.5"/>
<path class="lt" d="M1061,820.2 L1089.5,820.9"/>
<path class="lt" d="M1011.7,851.7 L1061,820.2"/>
<path class="lt" d="M1018.1,853.8 L1070.5,820.4"/>
<path class="lt" d="M1024.6,855.9 L1080,820.7"/>
<path class="lt" d="M1031,857.9 L1089.5,820.9"/>
<path class="lt" d="M981.7,821.7 L984,832.5"/>
<path class="lt" d="M988.4,818.4 L990.8,828.9"/>
<path class="lt" d="M995.1,815.1 L997.7,825.4"/>
<path class="lt" d="M1001.9,811.9 L1004.5,821.8"/>
<path class="lt" d="M1008.6,808.6 L1011.3,818.2"/>
<path class="lt" d="M1015.4,805.3 L1018.2,814.7"/>
<path class="lt" d="M1022.1,802 L1025,811.1"/>
<path class="lt" d="M1028.9,798.8 L1031.8,807.5"/>
<path class="lt" d="M1035.6,795.5 L1038.7,804"/>
<path class="lt" d="M981.7,821.7 L1035.6,795.5"/>
<path class="lt" d="M982.8,827.1 L1037.1,799.7"/>
<path class="lt" d="M984,832.5 L1038.7,804"/>
<path d="M1068,813.2 L1074.1,814.8 M1077.2,816.3 L1084.9,818.6" stroke="#d9701e" stroke-width="1.3" fill="none"/>
<path class="lt" d="M1000.2,858.7 L1000.2,871.8"/>
<path class="lt" d="M1000.9,859.4 L1035.6,862.5"/>
<path class="lt" d="M1006.3,889.5 L1007.9,872.5 L1021.7,871.8 L1021.7,889.5"/>
<path class="lt" d="M1029.4,904.9 L1032.5,881.8 L1047.9,883.3 L1046.4,904.9"/>
<path class="lt" d="M1021.7,866.4 L1021.7,900.3"/>
<path class="lt" d="M1029.4,866.4 L1029.4,900.3"/>
<path class="lt" d="M1021.7,870.2 L1029.4,870.2"/>
<path class="lt" d="M1021.7,874.5 L1029.4,874.5"/>
<path class="lt" d="M1021.7,878.9 L1029.4,878.9"/>
<path class="lt" d="M1021.7,883.2 L1029.4,883.2"/>
<path class="lt" d="M1021.7,887.5 L1029.4,887.5"/>
<path class="lt" d="M1021.7,891.8 L1029.4,891.8"/>
<path class="lt" d="M1021.7,896.1 L1029.4,896.1"/>
<path class="lt" d="M986.3,886.4 L992.4,874.1 L998.6,877.2"/>
<path class="lt" d="M1039.4,859.4 L1071,868.2 M1039.4,865.3 L1071,874.1 M1039.4,862.4 L1071,871.2 M1039.4,859.4 L1039.4,865.3 M1047.3,861.6 L1047.3,867.5 M1055.2,863.8 L1055.2,869.7 M1063.1,866.0 L1063.1,871.9 M1071.0,868.2 L1071.0,874.1 "/>
<path class="lt" d="M1071,868.2 L1140.1,826.3 M1071,874.1 L1140.1,832.2 M1071,871.2 L1140.1,829.2 M1071.0,868.2 L1071.0,874.1 M1078.7,863.5 L1078.7,869.4 M1086.4,858.9 L1086.4,864.8 M1094.0,854.2 L1094.0,860.1 M1101.7,849.6 L1101.7,855.5 M1109.4,844.9 L1109.4,850.8 M1117.1,840.3 L1117.1,846.2 M1124.7,835.6 L1124.7,841.5 M1132.4,831.0 L1132.4,836.9 M1140.1,826.3 L1140.1,832.2 "/>
<path class="lt" d="M1035.6,859.4 L1039.4,865.6"/>
<path class="l" d="M1071.0,874.1 C1070.4,876.1 1069.5,881.8 1067.2,886.4 C1064.9,891.0 1061.2,896.2 1057.2,901.8 C1053.2,907.4 1045.6,917.0 1043.3,920.0"/>
<path class="l" d="M900,917.2 L938.5,892.6"/>
<path class="l" d="M918.5,920 L950.8,899.5"/>
<path class="u2" d="M900,803.2 L981.7,757 M900,812.4 L981.7,766.2 M900,807.8 L981.7,761.6 M900.0,803.2 L900.0,812.4 M911.7,796.6 L911.7,805.8 M923.3,790.0 L923.3,799.2 M935.0,783.4 L935.0,792.6 M946.7,776.8 L946.7,786.0 M958.4,770.2 L958.4,779.4 M970.0,763.6 L970.0,772.8 M981.7,757.0 L981.7,766.2 "/>
<path class="lt" d="M900,818.6 L926.2,827.9"/>
<path class="hs" d="M1001.7,761.6 L1006.3,760.4 L1006.3,789.3 L1001.7,790.1Z"/>
<path class="hs" d="M1036.4,738.5 L1041,736.9 L1041,786.3 L1036.4,787.8Z"/>
<path d="M1006.3,763.1 L1036.4,784.7" stroke="#3a4c60" stroke-width="3.4" fill="none"/>
<path d="M1006.3,763.1 L1036.4,784.7" stroke="#d3e2f0" stroke-width="0.8" fill="none" opacity="0.9"/>
<path d="M1006.3,787.8 L1036.4,743.1" stroke="#3a4c60" stroke-width="3.4" fill="none"/>
<path d="M1006.3,787.8 L1036.4,743.1" stroke="#d3e2f0" stroke-width="0.8" fill="none" opacity="0.9"/>
<path d="M972.4,780.1 L1001.7,787.8" stroke="#3a4c60" stroke-width="3.4" fill="none"/>
<path d="M972.4,780.1 L1001.7,787.8" stroke="#d3e2f0" stroke-width="0.8" fill="none" opacity="0.9"/>
<path d="M972.4,789.3 L1001.7,766.2" stroke="#3a4c60" stroke-width="3.4" fill="none"/>
<path d="M972.4,789.3 L1001.7,766.2" stroke="#d3e2f0" stroke-width="0.8" fill="none" opacity="0.9"/>
<path class="hs" d="M972.4,790.1 L1038.7,770.8 L1038.7,774.7 L972.4,794Z"/>
<path class="hs" d="M1079.5,753.1 L1087.2,750.8 L1087.7,807.8 L1080.3,810.1Z"/>
<path class="hs" d="M1074.9,766.2 L1078.7,765.1 L1079,806.3 L1075.3,807.4Z"/>
<path class="hs" d="M967.8,779.3 L1038.7,736.2 L1044.8,738.2 L974.7,781.6Z"/>
<path class="hs" d="M967.8,779.3 L974.7,777.3 L1019.4,790.1 L1014,792.4Z"/>
<path class="hs" d="M1038.7,736.2 L1086.4,748.5 L1079.5,753.1 L1034.1,740.8Z"/>
<path class="hs" d="M998.6,761.3 L1006.3,758.5 L1047.9,770.8 L1043.3,773.9Z"/>
<path class="hs" d="M930,800.1 L937,796.6 L981.7,810.1 L976.3,813.2Z"/>
<path class="hs" d="M930,800.1 L967.8,779.3 L974.7,781.6 L937.8,802.4Z"/>
<path class="hs" d="M976.3,813.2 L1079.5,753.1 L1086.4,748.5 L1087.2,756.2 L976.3,820.9Z"/>
<path class="lt" d="M976.3,813.2 L1086.4,748.5"/>
<path class="lt" d="M981.7,810.1 L1079.5,753.1"/>
<path class="hs" d="M930,800.1 L976.3,813.2 L976.3,820.9 L930.5,808.6Z"/>
<path class="hs" d="M930,803.2 L937,805.2 L937.4,884.1 L930.5,881.8Z"/>
<path class="hs" d="M970.1,816.8 L977,818.6 L977.3,895.7 L970.4,893.8Z"/>
<path d="M937,810.9 L970.1,889.5" stroke="#3a4c60" stroke-width="4" fill="none"/>
<path d="M935.7,811.8 L968.9,890.4" stroke="#d3e2f0" stroke-width="0.9" fill="none" stroke-dasharray="none"/>
<path d="M938.2,810 L971.3,888.6" stroke="#d3e2f0" stroke-width="0.9" fill="none"/>
<path d="M970.1,820.2 L937,880.2" stroke="#3a4c60" stroke-width="4" fill="none"/>
<path d="M968.9,821.1 L935.7,881.2" stroke="#d3e2f0" stroke-width="0.9" fill="none" stroke-dasharray="none"/>
<path d="M971.3,819.2 L938.2,879.3" stroke="#d3e2f0" stroke-width="0.9" fill="none"/>
<path class="lt" d="M937.4,875.6 L970.4,885.6"/>
<path class="lt" d="M937.4,878.7 L970.4,888.7"/>
<path class="hs" d="M923.9,879.5 L930.8,877.2 L980.1,892.6 L981.7,898.7 L977,901 L924.7,884.9Z"/>
<path d="M1021.7,765.5 L1031,769.3 L1034.1,770.8" stroke="#d9701e" stroke-width="2.6" fill="none" stroke-linecap="round"/>
<path d="M1031,759.8 L1041,763.1 L1043.3,765.5" stroke="#d9701e" stroke-width="2.6" fill="none" stroke-linecap="round"/>
<path class="lt" d="M920,864.8 L928.5,826.3"/>
<path class="lt" d="M924.7,866.4 L932.4,827.9"/>
<path class="lt" d="M920.7,861.8 L925.3,863.3"/>
<path class="lt" d="M921.7,857.1 L926.2,858.7"/>
<path class="lt" d="M922.7,852.5 L927.1,854.1"/>
<path class="lt" d="M923.8,847.9 L928,849.4"/>
<path class="lt" d="M924.8,843.3 L929,844.8"/>
<path class="lt" d="M925.8,838.6 L929.9,840.2"/>
<path class="lt" d="M926.8,834 L930.8,835.6"/>
<path class="lt" d="M927.8,829.4 L931.7,830.9"/>
<path d="M997.6,732.8 L998.7,734.4 L1000.2,735.3 L1001.6,736.1 L1003.0,736.9 L1004.5,737.7 L1006.1,738.6 L1007.9,739.7 L1009.9,740.9 L1012.0,742.1 L1014.1,743.4 L1016.1,744.7 L1017.9,746.0 L1019.7,747.4 L1021.5,748.9 L1023.3,750.5 L1025.1,752.1 L1027.0,753.7 L1029.5,754.7 L1032.5,751.5 L1031.5,749.1 L1029.8,747.3 L1028.1,745.4 L1026.3,743.6 L1024.5,741.9 L1022.5,740.2 L1020.3,738.6 L1018.1,737.1 L1015.9,735.7 L1013.7,734.4 L1011.6,733.2 L1009.7,732.2 L1007.9,731.2 L1006.2,730.4 L1004.6,729.7 L1003.0,729.1 L1001.5,728.6 L999.6,728.8Z" fill="#a9d4f2"/>
<path d="M1042.5,779.3 L1052.5,777 L1054.9,786.3 L1055.6,795.5 L1065.6,793.7 L1058.7,820.2 L1044.1,797.8 L1050.2,797 L1047.9,787.8Z" fill="#97cdf1"/>

</g>
<!-- 36_ship2_c.svg -->
<g id="s2c">
<path class="h" d="M1177.4,560 L1179.3,560 L1179.8,595.1 L1178,595.1Z"/>
<path class="h" d="M1200.6,560 L1202.4,560 L1203,606.2 L1201.1,606.2Z"/>
<circle class="hs" cx="1131.2" cy="623.8" r="11.0967"/>
<path class="lt" d="M1133.1,621.0 C1133.2,622.2 1133.2,626.4 1134.0,628.4 C1134.8,630.4 1137.1,632.3 1137.7,633.1"/>
<path class="hs" d="M1126.6,634 L1141.4,630.3 L1141.4,646.9 L1126.6,650.6Z"/>
<circle class="hs" cx="1112.7" cy="660.8" r="12.2064"/>
<path class="lt" d="M1121.0,652.5 C1120.5,653.0 1118.5,654.1 1118.3,655.2 C1118.1,656.3 1119.8,658.3 1120.1,658.9"/>
<path class="hs" d="M1105.3,671 L1122,669.1 L1122,682.1 L1105.3,683.9Z"/>
<path class="u" d="M1141.4,615.5 L1126.6,606.2 L1123.8,610.9"/>
<path class="u" d="M1119.2,646.9 L1108.1,638.6 L1105.3,643.2"/>
<path class="hs" d="M1160.4,595.1 L1160.4,621 A13.8709,5.54836 0 0 0 1188.2,621 L1188.2,595.1"/>
<ellipse class="hs" cx="1174.3" cy="595.1" rx="13.8709" ry="5.54836"/>
<ellipse class="lt" cx="1174.3" cy="595.1" rx="11.0967" ry="4.16127"/>
<path class="lt" d="M1160.4,600.8 A13.8709,5.54836 0 0 0 1188.2,600.8"/>
<path class="lt" d="M1160.4,606.4 A13.8709,5.54836 0 0 0 1188.2,606.4"/>
<path class="lt" d="M1160.4,612 A13.8709,5.54836 0 0 0 1188.2,612"/>
<path class="lt" d="M1160.4,617.7 A13.8709,5.54836 0 0 0 1188.2,617.7"/>
<path class="hs" d="M1142.1,603.5 L1142.1,631.2 A14.4257,6.47309 0 0 0 1171,631.2 L1171,603.5"/>
<ellipse class="hs" cx="1156.5" cy="603.5" rx="14.4257" ry="6.47309"/>
<ellipse class="lt" cx="1156.5" cy="603.5" rx="11.5406" ry="4.85482"/>
<path class="lt" d="M1142.1,609.5 A14.4257,6.47309 0 0 0 1171,609.5"/>
<path class="lt" d="M1142.1,615.5 A14.4257,6.47309 0 0 0 1171,615.5"/>
<path class="lt" d="M1142.1,621.6 A14.4257,6.47309 0 0 0 1171,621.6"/>
<path class="lt" d="M1142.1,627.6 A14.4257,6.47309 0 0 0 1171,627.6"/>
<path class="l" d="M1162.6,635.8 L1205.2,609.9 L1235.7,708"/>
<path class="l" d="M1162.6,635.8 L1162.6,646.9 L1141.4,658 L1123.8,646.9"/>
<path class="l" d="M1141.4,658 L1141.4,689.5 L1123.8,700.6 L1123.8,730.1 L1099.8,743.1 L1097,770.8"/>
<path class="lt" d="M1123.8,641.4 L1141.4,652.5 M1123.8,646.9 L1141.4,658 M1123.8,644.2 L1141.4,655.2 M1123.8,641.4 L1123.8,646.9 M1132.6,647.0 L1132.6,652.5 M1141.4,652.5 L1141.4,658.0 "/>
<path class="lt" d="M1141.4,652.5 L1162.6,641.4 M1141.4,658 L1162.6,646.9 M1141.4,655.2 L1162.6,644.2 M1141.4,652.5 L1141.4,658.0 M1148.5,648.8 L1148.5,654.3 M1155.5,645.1 L1155.5,650.6 M1162.6,641.4 L1162.6,646.9 "/>
<path class="l" d="M1085,689.5 L1123.8,700.6"/>
<path class="lt" d="M1085,689.5 L1093.3,709.8 L1098.8,743.1"/>
<path class="u2" d="M1085.9,678.7 L1123.8,689.5 M1085.9,689.5 L1123.8,700.2 M1085.9,684.1 L1123.8,694.8 M1085.9,678.7 L1085.9,689.5 M1093.5,680.9 L1093.5,691.6 M1101.1,683.0 L1101.1,693.8 M1108.6,685.2 L1108.6,695.9 M1116.2,687.3 L1116.2,698.1 M1123.8,689.5 L1123.8,700.2 "/>
<path class="lt" d="M1123.8,689.5 L1141.4,679.8 M1123.8,699.6 L1141.4,690 M1123.8,694.5 L1141.4,684.9 M1123.8,689.5 L1123.8,699.6 M1132.6,684.6 L1132.6,694.8 M1141.4,679.8 L1141.4,690.0 "/>
<path class="u" d="M1072.9,717.2 L1072,695 L1078.5,692.2 L1080.7,700.6"/>
<path class="lt" d="M1072.9,717.2 L1072,695 L1078.5,692.2 L1080.7,700.6"/>
<path class="hs" d="M1073.9,726.5 L1078.5,719.1 L1092.4,716.3 L1095.1,732 L1089.6,735.7 L1076.6,734.8Z"/>
<path class="l" d="M1177.4,663.3 L1186.7,658.3 L1186.7,687.8 L1177.4,692.9Z" stroke-linejoin="round"/>
<path class="l" d="M1189.5,657.8 L1198.7,652.7 L1198.7,682.3 L1189.5,687.4Z" stroke-linejoin="round"/>
<path class="l" d="M1201.5,652.2 L1210.7,647.2 L1210.7,676.7 L1201.5,681.8Z" stroke-linejoin="round"/>
<path class="l" d="M1149.7,686.1 L1154.1,683.6 L1154.1,705.8 L1149.7,708.3Z" stroke-linejoin="round"/>
<path class="l" d="M1156.7,682.4 L1161.2,679.9 L1161.2,702.1 L1156.7,704.6Z" stroke-linejoin="round"/>
<path class="l" d="M1131,726.5 L1136.2,723.6 L1136.2,746.8 L1131,749.6Z" stroke-linejoin="round"/>
<path class="l" d="M1139.2,721.3 L1144.3,718.5 L1144.3,741.6 L1139.2,744.4Z" stroke-linejoin="round"/>
<path class="l" d="M1147.7,716.1 L1152.8,713.3 L1152.8,736.4 L1147.7,739.2Z" stroke-linejoin="round"/>
<path class="l" d="M1156.4,711 L1161.5,708.1 L1161.5,731.2 L1156.4,734.1Z" stroke-linejoin="round"/>
<path class="lt" d="M1180.2,722.8 L1180.2,707 L1185.8,702.4 L1191.3,705.2 L1191.3,717.2"/>
<path class="lt" d="M1185.8,702.4 L1185.8,720.9"/>
<path class="l" d="M1304.1,630.3 L1275.5,669.1"/>
<path class="lt" d="M1249.6,590.5 L1248.6,674.7"/>
<path class="lt" d="M1213.5,597 L1208,613.6 L1237.5,722.8"/>
<path class="l" d="M1230.1,720.9 C1230.1,712.6 1229.3,681.0 1230.1,671.0 C1230.9,661.0 1232.6,662.6 1234.8,660.8 C1237.0,658.9 1241.4,659.1 1243.1,659.9 C1244.8,660.7 1244.6,664.5 1244.9,665.4"/>
<path class="lt" d="M1234.8,720.9 L1234.8,672.8"/>
<path class="lt" d="M1237.5,720.9 L1237.5,671"/>
<path class="l" d="M1244,719.1 L1244,666.3"/>
<path class="lt" d="M1246.8,674.3 L1272.7,680.2 M1246.8,681.7 L1272.7,687.6 M1246.8,678 L1272.7,683.9 M1246.8,674.3 L1246.8,681.7 M1255.4,676.3 L1255.4,683.7 M1264.1,678.2 L1264.1,685.6 M1272.7,680.2 L1272.7,687.6 "/>
<path class="lt" d="M1272.7,680.2 L1291.2,672.4 M1272.7,687.6 L1291.2,679.8 M1272.7,683.9 L1291.2,676.1 M1272.7,680.2 L1272.7,687.6 M1278.9,677.6 L1278.9,685.0 M1285.0,675.0 L1285.0,682.4 M1291.2,672.4 L1291.2,679.8 "/>
<path class="lt" d="M1291.2,672.4 L1340,678.4 M1291.2,679.8 L1340,685.8 M1291.2,676.1 L1340,682.1 M1291.2,672.4 L1291.2,679.8 M1299.3,673.4 L1299.3,680.8 M1307.5,674.4 L1307.5,681.8 M1315.6,675.4 L1315.6,682.8 M1323.7,676.4 L1323.7,683.8 M1331.9,677.4 L1331.9,684.8 M1340.0,678.4 L1340.0,685.8 "/>
<path class="lt" d="M1275.5,669.1 L1293,659.9 L1293,637.7 L1304.1,630.3"/>
<path class="lt" d="M1293,637.7 L1340,648.8"/>
<path class="lt" d="M1328.2,663.6 L1328.2,655.2 L1335.6,656.2 L1335.6,671"/>
<ellipse class="lt" cx="1264.4" cy="663.6" rx="2.21935" ry="2.95913"/>
<ellipse class="lt" cx="1269.9" cy="660.8" rx="2.21935" ry="2.95913"/>
<ellipse class="lt" cx="1264.4" cy="671" rx="2.21935" ry="2.95913"/>
<ellipse class="lt" cx="1269.9" cy="668.2" rx="2.21935" ry="2.95913"/>
<ellipse class="lt" cx="1267.1" cy="657.1" rx="2.21935" ry="2.95913"/>
<path class="lt" d="M1259.7,689.5 L1261.6,715.4 L1281.9,717.2 L1291.2,711.7 L1293,693.2 L1313.4,694.1 L1314.3,708"/>
<path class="lt" d="M1281,716.3 L1281,706.1"/>
<ellipse class="lt" cx="1282.9" cy="706.1" rx="2.21935" ry="1.47956"/>
<path class="lt" d="M1321.7,708 L1321.7,698.7 L1329.1,699.6 L1329.1,710.7"/>
<path class="lt" d="M1250.5,715.4 L1261.6,715.4"/>
<path class="lt" d="M1246.8,682.1 L1250.5,715.4"/>
<path class="lt" d="M1098.8,763.4 L1237.5,701.5 M1098.8,771.8 L1237.5,709.8 M1098.8,767.6 L1237.5,705.6 M1098.8,763.4 L1098.8,771.8 M1107.5,759.5 L1107.5,767.9 M1116.1,755.7 L1116.1,764.0 M1124.8,751.8 L1124.8,760.2 M1133.5,747.9 L1133.5,756.3 M1142.1,744.1 L1142.1,752.4 M1150.8,740.2 L1150.8,748.5 M1159.5,736.3 L1159.5,744.7 M1168.2,732.5 L1168.2,740.8 M1176.8,728.6 L1176.8,736.9 M1185.5,724.7 L1185.5,733.0 M1194.2,720.8 L1194.2,729.2 M1202.8,717.0 L1202.8,725.3 M1211.5,713.1 L1211.5,721.4 M1220.2,709.2 L1220.2,717.5 M1228.8,705.4 L1228.8,713.7 M1237.5,701.5 L1237.5,709.8 "/>
<path class="lt" d="M1097,770.8 L1121,781.9 L1122,800.1"/>
<path class="lt" d="M1121,781.9 L1200.6,743.1"/>
<path class="lt" d="M1130.3,800.1 L1131.2,786.6 L1135.8,783.8 L1136.8,800.1"/>
<path class="lt" d="M1221.8,743.1 L1221.8,727.4 L1226.5,725.5 L1227.4,742.2"/>
<path class="lt" d="M1165.4,774.5 L1165.4,767.1 L1169.1,765.7 L1169.5,772.7"/>
<path class="l" d="M1152.5,791.2 C1153.1,789.0 1153.1,781.3 1156.2,778.2 C1159.3,775.1 1165.5,773.9 1171.0,772.7 C1176.5,771.5 1185.5,770.3 1189.5,770.8 C1193.5,771.3 1195.0,772.7 1195.0,775.5 C1195.0,778.3 1192.9,784.1 1189.5,787.5 C1186.1,790.9 1180.2,793.7 1174.7,795.8 C1169.2,797.9 1159.3,799.4 1156.2,800.1"/>
<path class="lt" d="M1152.5,793.0 C1155.6,791.9 1164.8,789.4 1171.0,786.6 C1177.2,783.8 1186.4,778.1 1189.5,776.4"/>
<path class="l" d="M1202.4,757.9 C1203.3,756.4 1204.6,750.9 1208.0,748.6 C1211.4,746.3 1218.0,745.1 1222.8,744.0 C1227.6,742.9 1234.1,741.4 1236.6,742.2 C1239.0,743.0 1238.6,745.8 1237.5,748.6 C1236.4,751.4 1233.8,756.2 1230.1,758.8 C1226.4,761.4 1219.7,763.6 1215.4,764.4 C1211.1,765.2 1206.5,764.5 1204.3,763.4 C1202.1,762.3 1202.7,758.8 1202.4,757.9"/>
<ellipse class="lt" cx="1217.2" cy="753.3" rx="8.32254" ry="3.69891"/>
<path class="lt" d="M1195.9,800.1 L1195,756 L1200.6,744.9 L1206.1,733.8 L1202.4,732.9 L1198.7,743.1 L1193.2,754.2"/>
<path class="lt" d="M1185.8,769 L1186.7,761.6 L1189.5,760.7 L1189.5,770.8"/>
<path class="lt" d="M1206.1,744.9 L1208,800.1"/>
<path class="l" d="M1217.2,778.2 L1340,704.3"/>
<path class="lt" d="M1217.2,784.7 L1340,710.7"/>
<path class="lt" d="M1217.2,778.2 L1217.2,800.1"/>
<path class="lt" d="M1223.3,774.5 L1223.3,781"/>
<path class="lt" d="M1232,769.3 L1232,775.8"/>
<path class="lt" d="M1240.7,764.1 L1240.7,770.5"/>
<path class="lt" d="M1249.4,758.8 L1249.4,765.3"/>
<path class="lt" d="M1258.1,753.6 L1258.1,760.1"/>
<path class="lt" d="M1266.8,748.4 L1266.8,754.8"/>
<path class="lt" d="M1275.5,743.1 L1275.5,749.6"/>
<path class="lt" d="M1284.2,737.9 L1284.2,744.4"/>
<path class="lt" d="M1292.9,732.7 L1292.9,739.1"/>
<path class="lt" d="M1301.6,727.4 L1301.6,733.9"/>
<path class="lt" d="M1310.3,722.2 L1310.3,728.7"/>
<path class="lt" d="M1318.9,716.9 L1318.9,723.4"/>
<path class="lt" d="M1327.6,711.7 L1327.6,718.2"/>
<path class="lt" d="M1336.3,706.5 L1336.3,712.9"/>
<path class="lt" d="M1292.1,759.7 L1284.7,789.3"/>
<path d="M1060,713.5 L1071.1,717.2" stroke="#d9701e" stroke-width="1.4" fill="none"/>

</g>
<!-- 37_ship2_d.svg -->
<g id="s2d">
<path class="h" d="M1197.8,536.9 L1199.7,536.9 L1202.2,604.8 L1200.5,604.8Z"/>
<path class="lt" d="M1214,599.3 L1214.7,582.6 L1217.4,571.5 L1223,552.1 L1228.5,535.5 L1257.7,531.3"/>
<path class="lt" d="M1228.5,535.5 L1239.6,552.1 L1223,552.1"/>
<circle class="hs" cx="1263.2" cy="517.4" r="7.76699"/>
<circle class="hs" cx="1297.9" cy="514.7" r="5.54785"/>
<path class="hs" d="M1275.7,525.8 L1283.3,523.3 L1295.1,521.6 L1299.3,521.6 L1299.3,549.3 L1284,549.3 L1282.6,538.3Z"/>
<path class="lt" d="M1283.3,549.3 C1283.4,547.5 1283.0,540.9 1284.0,538.3 C1285.0,535.6 1287.8,533.4 1289.6,533.4 C1291.4,533.4 1294.2,535.4 1295.1,538.3 C1296.0,541.2 1295.1,548.6 1295.1,550.7"/>
<path class="hs" d="M1250,549.3 L1250,568.8 A13.1761,5.27046 0 0 0 1276.4,568.8 L1276.4,549.3"/>
<ellipse class="hs" cx="1263.2" cy="549.3" rx="13.1761" ry="5.27046"/>
<path class="lt" d="M1250,554.7 A13.1761,5.27046 0 0 0 1276.4,554.7"/>
<path class="lt" d="M1250,560.1 A13.1761,5.27046 0 0 0 1276.4,560.1"/>
<path class="lt" d="M1250,565.5 A13.1761,5.27046 0 0 0 1276.4,565.5"/>
<path class="hs" d="M1229.2,559.8 L1229.2,579.9 A13.8696,5.54785 0 0 0 1257,579.9 L1257,559.8"/>
<ellipse class="hs" cx="1243.1" cy="559.8" rx="13.8696" ry="5.54785"/>
<path class="lt" d="M1229.2,564.1 A13.8696,5.54785 0 0 0 1257,564.1"/>
<path class="lt" d="M1229.2,568.5 A13.8696,5.54785 0 0 0 1257,568.5"/>
<path class="lt" d="M1229.2,572.9 A13.8696,5.54785 0 0 0 1257,572.9"/>
<path class="lt" d="M1229.2,577.2 A13.8696,5.54785 0 0 0 1257,577.2"/>
<path class="l" d="M1214,599.3 L1249.3,589.6 L1293,561.8"/>
<path class="l" d="M1249.3,589.6 L1250,660"/>
<path class="l" d="M1293,561.8 L1304.8,622.9"/>
<path class="lt" d="M1214,599.3 L1207.7,618.7 L1214.7,660"/>
<path class="lt" d="M1216.1,599.3 L1245.2,605.5 L1248,607.6"/>
<ellipse class="lt" cx="1270.8" cy="590.3" rx="2.21914" ry="4.43828"/>
<path class="l" d="M1263.1,624.1 L1270.3,620.9 L1270.3,643.8 L1263.1,647Z" stroke-linejoin="round"/>
<path class="l" d="M1273.5,617.9 L1280.7,614.6 L1280.7,637.5 L1273.5,640.8Z" stroke-linejoin="round"/>
<path class="l" d="M1283.2,611.7 L1290.4,608.4 L1290.4,631.3 L1283.2,634.5Z" stroke-linejoin="round"/>
<path class="u" d="M1214.4,559.8 L1238.3,597.9"/>
<path class="lt" d="M1214.4,559.8 L1238.3,597.9"/>
<path class="lt" d="M1216.8,559.8 L1240.3,596.5"/>
<circle class="lt" cx="1215.4" cy="583.3" r="1.94175"/>
<circle class="lt" cx="1216.8" cy="575.7" r="1.66436"/>
<path class="u2" d="M1193.9,597.2 L1214,587.5 M1193.9,602.7 L1214,593 M1193.9,600 L1214,590.3 M1193.9,597.2 L1193.9,602.7 M1198.9,594.8 L1198.9,600.3 M1204.0,592.4 L1204.0,597.9 M1209.0,589.9 L1209.0,595.4 M1214.0,587.5 L1214.0,593.0 "/>
<path class="hs" d="M1277.8,480 L1282.9,480 L1267.7,545.2 L1257.7,543.5Z"/>
<path class="lt" d="M1280.1,480 L1262.7,544.2"/>
<path class="hs" d="M1299.3,493.9 L1320.8,493.9 L1327,591 L1324.2,593.7 L1313.1,593 L1310.4,589.6 L1299.3,549.3Z"/>
<path class="l" d="M1315.2,480 L1316.6,591"/>
<path class="l" d="M1320.1,480 L1322.9,591"/>
<path class="lt" d="M1299.3,521.6 L1315.2,521.6"/>
<path class="lt" d="M1299.3,549.3 L1315.9,550"/>
<path class="hs" d="M1320.8,521.6 L1339.5,520.2 L1352,513.3 L1360.3,520.2 L1360.3,538.3 L1349.2,539.6 L1328.4,549.3 L1322.2,549.3Z"/>
<path class="hs" d="M1322.9,500.8 L1340.9,503.6 L1354.8,507.7 L1353.4,513.3 L1339.5,520.2 L1322.9,520.2Z"/>
<path class="u2" d="M1338.1,502.2 L1355.5,506.4 M1338.1,507 L1355.5,511.2 M1338.1,504.6 L1355.5,508.8 M1338.1,502.2 L1338.1,507.0 M1343.9,503.6 L1343.9,508.4 M1349.7,505.0 L1349.7,509.8 M1355.5,506.4 L1355.5,511.2 "/>
<path class="lt" d="M1328.4,507.7 L1328.4,518.8"/>
<path class="lt" d="M1322.9,509.8 L1339.5,508.4 L1353.4,512.6"/>
<circle class="hs" cx="1374.2" cy="525.8" r="9.98613"/>
<path class="hs" d="M1350.6,538.3 L1364.5,531.3 L1385.3,535.5 L1392.9,542.4 L1392.2,557.7 L1353.4,563.2Z"/>
<path class="hs" d="M1328.4,566 L1328.4,541 A10.4022,10.4022 0 0 1 1349.2,541 L1349.2,566 A10.4022,4.16089 0 0 1 1328.4,566 Z"/>
<path class="lt" d="M1328.4,545.2 C1330.1,545.9 1335.3,549.3 1338.8,549.3 C1342.3,549.3 1347.5,545.9 1349.2,545.2"/>
<path class="lt" d="M1328.4,552.1 C1330.1,552.8 1335.3,556.3 1338.8,556.3 C1342.3,556.3 1347.5,552.8 1349.2,552.1"/>
<path class="lt" d="M1356.1,555.6 L1370.7,554.9 L1370.7,563.2 L1356.1,564.6Z"/>
<path class="lt" d="M1347.1,557.7 L1347.1,567.4 L1351.3,566.7 L1351.3,557"/>

</g>
<!-- 38_ship2_e.svg -->
<g id="s2e">

<path class="h" d="M1297.4,291.2 L1296.9,356 L1298.9,356 L1299.4,291.2Z"/>
<path class="h" d="M1292.8,286.1 L1304.6,286.1 L1304.6,291.2 L1292.8,291.2Z"/>
<path class="h" d="M1292.8,302.4 L1304,302.4 L1304,313.6 L1292.8,313.6Z"/>
<path class="h" d="M1293.5,327 L1302.9,327 L1302.9,332.5 L1293.5,332.5Z"/>
<path class="h" d="M1288.1,335.5 L1293.6,348.5 L1295.1,347.9 L1289.5,334.9Z"/>
<path class="h" d="M1299.5,358.2 L1299.5,343.7 A7.37101,7.81774 0 0 1 1314,343.7 L1314,358.2 Z"/>
<ellipse class="hs" cx="1304" cy="358.2" rx="22.3364" ry="6.25419"/>
<ellipse class="lt" cx="1304" cy="356" rx="17.8691" ry="4.46728"/>
<path class="hs" d="M1292.8,358.2 L1314,358.2 L1314,404 L1318,448.7 L1323,559.9 L1300.6,559.9 L1296.1,448.7 L1293.9,404Z"/>
<ellipse class="hs" cx="1304" cy="379.4" rx="22.3364" ry="5.80746"/>
<path class="hs" d="M1292.8,375 L1314,375 L1314,386.1 L1292.8,386.1Z"/>
<path class="lt" d="M1293.9,408.5 L1314,413"/>
<path class="lt" d="M1296.1,435.3 L1316.3,439.8"/>
<path class="lt" d="M1296.1,446.5 C1296.8,447.6 1297.6,452.8 1300.6,453.2 C1303.6,453.6 1311.8,449.4 1314.0,448.7"/>
<path class="lt" d="M1314,462.1 L1318.5,559.9"/>
<path class="h" d="M1232,362.4 L1382.8,390.4 L1383.7,385.5 L1232.9,357.6Z"/>
<path class="lt" d="M1234.7,360.5 L1381,387.7"/>
<path class="h" d="M1238.1,363.8 L1238.1,369.4 L1239,369.4 L1239,363.8Z"/>
<path class="h" d="M1376.1,389.5 L1376.1,395.1 L1377,395.1 L1377,389.5Z"/>
<path class="u" d="M1239.2,368.3 L1281.6,375"/>
<path class="u" d="M1316.3,382.8 L1377.7,394"/>
<path class="h" d="M1257.3,369.2 L1293.1,402.7 L1294.8,400.9 L1259,367.4Z"/>
<path class="h" d="M1353.7,385 L1313.5,402.9 L1314.5,405.1 L1354.7,387.3Z"/>
<path class="h" d="M1269,373.1 L1277.9,382.1 L1278.7,381.3 L1269.7,372.4Z"/>
<path class="h" d="M1329.2,383.1 L1335.9,392.1 L1336.8,391.4 L1330.1,382.5Z"/>
<path class="h" d="M1336.6,392.2 L1350,386.7 L1349.5,385.6 L1336.1,391.2Z"/>
<path class="h" d="M1241.3,336.3 L1241.3,359.3 L1242.9,359.3 L1242.9,336.3Z"/>
<path class="h" d="M1274.1,357.6 L1274.1,368.3 L1275.7,368.3 L1275.7,357.6Z"/>
<path class="h" d="M1372.4,361.6 L1372.4,386.1 L1374,386.1 L1374,361.6Z"/>
<path class="h" d="M1339.6,368.3 L1339.6,379.4 L1341.2,379.4 L1341.2,368.3Z"/>
<path class="h" d="M1326.6,368.3 L1326.6,376.1 L1328.2,376.1 L1328.2,368.3Z"/>
<path class="h" d="M1320.4,369.4 L1320.4,375 L1321.9,375 L1321.9,369.4Z"/>
<path class="h" d="M1207.4,414.7 L1393.9,451.5 L1395,445.8 L1208.5,409Z"/>
<path class="lt" d="M1210.2,412.3 L1392.2,448.2"/>
<path class="u" d="M1211.3,418.5 L1258.2,427.5 L1258.2,421.9"/>
<path class="u" d="M1323,443.1 L1390,455.4 L1390,449.8"/>
<path class="h" d="M1219.9,417.6 L1219.9,423.2 L1220.5,423.2 L1220.5,417.6Z"/>
<path class="h" d="M1237.7,421.2 L1237.7,426.8 L1238.4,426.8 L1238.4,421.2Z"/>
<path class="h" d="M1257.8,425.2 L1257.8,430.8 L1258.5,430.8 L1258.5,425.2Z"/>
<path class="h" d="M1342.7,445.8 L1342.7,452.5 L1343.4,452.5 L1343.4,445.8Z"/>
<path class="h" d="M1358.4,448.8 L1358.4,455.5 L1359,455.5 L1359,448.8Z"/>
<path class="h" d="M1371.8,451.3 L1371.8,458 L1372.4,458 L1372.4,451.3Z"/>
<path class="h" d="M1387.4,454.3 L1387.4,461 L1388.1,461 L1388.1,454.3Z"/>
<path class="h" d="M1232.8,384.6 L1232.8,413 L1234.4,413 L1234.4,384.6Z"/>
<path class="h" d="M1365.7,409.6 L1365.7,442 L1367.3,442 L1367.3,409.6Z"/>
<path class="h" d="M1213.5,401.8 L1221.3,401.8 L1221.3,413 L1213.5,413Z"/>
<path class="h" d="M1382.1,436.4 L1390,436.4 L1390,446.5 L1382.1,446.5Z"/>
<path class="h" d="M1216.7,398.4 L1216.7,404 L1217.9,404 L1217.9,398.4Z"/>
<path class="h" d="M1385.4,433.1 L1385.4,437.5 L1386.5,437.5 L1386.5,433.1Z"/>
<path class="h" d="M1239.4,422.9 L1286.3,463.1 L1288.1,461.1 L1241.2,420.9Z"/>
<path class="h" d="M1362.6,443 L1313.5,465.3 L1314.6,467.8 L1363.7,445.4Z"/>
<path class="h" d="M1257.7,426.7 L1268.9,440.1 L1269.8,439.4 L1258.6,426Z"/>
<path class="h" d="M1269.6,439.4 L1258.5,430.5 L1257.9,431.2 L1269.1,440.1Z"/>
<path class="h" d="M1333.6,440 L1342.6,456.8 L1343.5,456.2 L1334.6,439.5Z"/>
<path class="hs" d="M1289.1,438.9 L1254.5,540.5 L1259.6,542.3 L1294.2,440.6Z"/>
<path class="h" d="M1284.4,493.8 L1297.8,511.6 L1298.9,510.8 L1285.5,493Z"/>
<path class="hs" d="M1278.3,413 L1296.1,410.7 L1296.1,424.1 L1279.4,424.1Z"/>
<path class="u2" d="M1278.3,413 L1293.9,410.3 M1278.3,421.9 L1293.9,419.2 M1278.3,417.4 L1293.9,414.7 M1278.3,413.0 L1278.3,421.9 M1283.5,412.1 L1283.5,421.0 M1288.7,411.2 L1288.7,420.1 M1293.9,410.3 L1293.9,419.2 "/>
<path class="hs" d="M1314,413 L1334.1,408.5 L1331.9,421.9 L1314,426.4Z"/>
<path class="u2" d="M1316.3,406.7 L1335.2,404 M1316.3,414.5 L1335.2,411.8 M1316.3,410.6 L1335.2,407.9 M1316.3,406.7 L1316.3,414.5 M1322.6,405.8 L1322.6,413.6 M1328.9,404.9 L1328.9,412.7 M1335.2,404.0 L1335.2,411.8 "/>
<path class="hs" d="M1314,404 L1334.1,404 L1334.1,407.4 L1314,407.4Z"/>
<path class="hs" d="M1274.9,480 L1299.5,484.4 L1299.5,491.1 L1274.9,487.8Z"/>
<path class="u2" d="M1274.9,471 L1300.6,474.4 M1274.9,483.3 L1300.6,486.7 M1274.9,477.2 L1300.6,480.5 M1274.9,471.0 L1274.9,483.3 M1281.3,471.9 L1281.3,484.1 M1287.8,472.7 L1287.8,485.0 M1294.2,473.5 L1294.2,485.9 M1300.6,474.4 L1300.6,486.7 "/>
<path class="hs" d="M1314,482.2 L1339.7,485.5 L1336.4,493.4 L1314,491.1Z"/>
<path class="u2" d="M1318.5,469.9 L1340.8,474.4 M1318.5,483.3 L1340.8,487.8 M1318.5,476.6 L1340.8,481.1 M1318.5,469.9 L1318.5,483.3 M1324.1,471.0 L1324.1,484.4 M1329.7,472.1 L1329.7,485.6 M1335.2,473.3 L1335.2,486.7 M1340.8,474.4 L1340.8,487.8 "/>
<path class="hs" d="M1333.5,483.7 L1320.1,494.9 L1321.3,496.3 L1334.7,485.1Z"/>
<path class="hs" d="M1323,493.4 L1336.4,502.3 L1356.5,510.1 L1363.2,520.2 L1363.2,538 L1323,538Z"/>
<path class="u2" d="M1339.7,502.3 L1356.5,507.9 M1339.7,509 L1356.5,514.6 M1339.7,505.6 L1356.5,511.2 M1339.7,502.3 L1339.7,509.0 M1345.3,504.2 L1345.3,510.9 M1350.9,506.0 L1350.9,512.7 M1356.5,507.9 L1356.5,514.6 "/>

</g>
<!-- 39_ship2_f.svg -->
<g id="s2f">

<path class="u2" d="M1385.1,519.7 L1533,473.5 M1385.1,527.1 L1533,480.9 M1385.1,523.4 L1533,477.2 M1385.1,519.7 L1385.1,527.1 M1397.4,515.9 L1397.4,523.2 M1409.8,512.0 L1409.8,519.4 M1422.1,508.2 L1422.1,515.5 M1434.4,504.3 L1434.4,511.7 M1446.7,500.5 L1446.7,507.9 M1459.0,496.6 L1459.0,504.0 M1471.4,492.8 L1471.4,500.1 M1483.7,488.9 L1483.7,496.3 M1496.0,485.1 L1496.0,492.4 M1508.3,481.2 L1508.3,488.6 M1520.7,477.4 L1520.7,484.8 M1533.0,473.5 L1533.0,480.9 "/>
<path class="lt" d="M1533.0,473.5 C1533.7,474.3 1536.2,472.1 1536.9,478.1 C1537.6,484.1 1538.1,499.5 1536.9,509.3 C1535.8,519.1 1533.5,527.0 1530.0,537.0 C1526.5,547.0 1521.1,559.4 1516.1,569.4 C1511.1,579.4 1505.4,587.9 1500.0,597.1 C1494.6,606.3 1489.6,616.3 1483.8,624.8 C1478.0,633.3 1472.2,640.2 1465.3,647.9 C1458.4,655.6 1449.9,663.4 1442.2,671.1 C1434.5,678.8 1426.8,686.5 1419.1,694.2 C1411.4,701.9 1399.8,713.4 1396.0,717.3"/>
<path class="l" d="M1385.1,527.3 L1531.8,481.1"/>
<path class="l" d="M1533.0,481.6 C1532.9,486.2 1533.8,500.1 1532.3,509.3 C1530.8,518.5 1527.3,528.3 1523.8,537.0 C1520.3,545.7 1515.5,553.4 1511.1,561.3 C1506.7,569.2 1502.2,576.8 1497.2,584.4 C1492.2,592.0 1486.8,599.9 1481.0,606.8 C1475.2,613.7 1469.0,620.5 1462.5,626.0 C1456.0,631.5 1446.5,636.8 1441.7,639.9 C1436.9,643.0 1435.0,643.7 1433.7,644.5"/>
<path class="lt" d="M1527.7,486.2 C1527.5,490.1 1528.3,501.2 1526.8,509.3 C1525.2,517.4 1521.9,526.5 1518.4,534.7 C1514.9,542.9 1510.4,550.6 1506.0,558.3 C1501.6,566.0 1497.0,573.5 1492.1,580.9 C1487.2,588.3 1482.0,596.1 1476.4,602.9 C1470.8,609.7 1464.8,616.4 1458.4,621.8 C1452.1,627.2 1442.8,632.3 1438.3,635.2 C1433.8,638.1 1432.5,638.5 1431.3,639.2"/>
<path class="lt" d="M1533.0,487.1 L1527.6,490.8"/>
<path class="lt" d="M1533.1,495.5 L1527.7,497.6"/>
<path class="lt" d="M1532.9,503.8 L1527.5,504.5"/>
<path class="lt" d="M1531.8,512.1 L1526.3,511.8"/>
<path class="lt" d="M1529.7,520.5 L1524.2,519.4"/>
<path class="lt" d="M1526.9,528.9 L1521.5,527.1"/>
<path class="lt" d="M1523.8,537.0 L1518.4,534.7"/>
<path class="lt" d="M1520.3,544.6 L1515.0,541.9"/>
<path class="lt" d="M1516.5,551.8 L1511.3,549.0"/>
<path class="lt" d="M1512.4,558.9 L1507.3,556.0"/>
<path class="lt" d="M1508.4,566.0 L1503.3,562.9"/>
<path class="lt" d="M1504.4,573.0 L1499.3,569.7"/>
<path class="lt" d="M1500.1,579.8 L1495.0,576.4"/>
<path class="lt" d="M1495.7,586.7 L1490.6,583.1"/>
<path class="lt" d="M1491.0,593.6 L1486.1,589.9"/>
<path class="lt" d="M1486.1,600.3 L1481.3,596.5"/>
<path class="lt" d="M1481.0,606.8 L1476.4,602.9"/>
<path class="lt" d="M1475.7,613.0 L1471.2,609.0"/>
<path class="lt" d="M1470.2,618.9 L1465.9,614.8"/>
<path class="lt" d="M1464.5,624.3 L1460.3,620.1"/>
<path class="lt" d="M1458.3,629.3 L1454.3,625.0"/>
<path class="lt" d="M1451.4,633.9 L1447.7,629.4"/>
<path class="lt" d="M1445.1,637.8 L1441.5,633.2"/>
<path class="lt" d="M1440.4,640.7 L1437.1,636.0"/>
<path class="lt" d="M1437.6,642.4 L1434.6,637.5"/>
<path class="lt" d="M1435.7,643.4 L1433.0,638.3"/>
<path d="M1405.9,539.4 L1439.4,518.6 L1507.6,534.7 L1477.6,555.5Z" fill="none" stroke="#f4f8fb" stroke-width="1.9"/>
<path d="M1409.4,526.6 L1506.4,548.6" stroke="#f4f8fb" stroke-width="1.9" fill="none"/>
<path class="hs" d="M1411.7,548.6 C1412.5,546.7 1413.6,539.9 1416.3,537.0 C1419.0,534.1 1424.1,531.3 1427.9,531.3 C1431.8,531.3 1436.7,534.1 1439.4,537.0 C1442.1,539.9 1443.6,545.1 1444.0,548.6 C1444.4,552.1 1444.4,555.5 1441.7,557.8 C1439.0,560.1 1432.3,562.3 1427.9,562.5 C1423.5,562.7 1417.9,561.3 1415.2,559.0 C1412.5,556.7 1412.3,550.3 1411.7,548.6"/>
<path class="lt" d="M1415.2,559.0 C1415.4,559.8 1414.2,562.5 1416.3,563.6 C1418.4,564.8 1423.9,566.1 1427.9,565.9 C1432.0,565.7 1438.3,563.9 1440.6,562.5 C1442.9,561.1 1441.5,558.6 1441.7,557.8"/>
<path d="M1431.3,534.7 L1457.4,513.9" stroke="#3a4c60" stroke-width="3.4" stroke-linecap="round"/>
<path class="lt" d="M1430.2,532.9 L1456.3,512.6"/>
<path class="lt" d="M1432.5,536.6 L1458.4,515.3"/>
<ellipse class="lt" cx="1477.6" cy="513.9" rx="5.08318" ry="6.00739"/>
<ellipse class="lt" cx="1481" cy="516.2" rx="2.77264" ry="3.4658"/>
<path class="l" d="M1481.0,516.2 C1484.5,514.3 1495.2,508.4 1501.8,504.7 C1508.3,501.0 1516.2,497.2 1520.3,494.3 C1524.3,491.4 1525.1,488.5 1526.1,487.4"/>
<path class="lt" d="M1501.8,496.6 C1503.0,496.4 1506.8,495.3 1508.7,495.5 C1510.6,495.7 1512.6,497.4 1513.4,497.8"/>
<ellipse class="lt" cx="1499.5" cy="520.9" rx="2.77264" ry="3.92791"/>
<ellipse class="lt" cx="1518" cy="517.4" rx="3.4658" ry="2.31054"/>
<ellipse class="lt" cx="1526.1" cy="488.1" rx="2.31054" ry="1.84843"/>
<ellipse class="lt" cx="1448.2" cy="509.3" rx="2.77264" ry="2.77264"/>
<path class="lt" d="M1454.4,608.7 L1454.9,601.7 L1457.9,599.4 L1461.4,599.9 L1464.8,601.7 L1464.8,607.5"/>
<path class="lt" d="M1457.9,608.2 L1458.4,601.7 L1461.4,601.7 L1461.8,607.5"/>
<path class="l" d="M1433.7,644.5 L1411,657.7 L1374,680.1 L1340.1,700.6"/>
<path class="lt" d="M1431.3,638.7 L1409.4,651.2 L1372.4,673.6 L1338.9,693.7"/>
<path class="lt" d="M1429,647.3 L1428,640.4"/>
<path class="lt" d="M1418.4,653.6 L1417.5,646.7"/>
<path class="lt" d="M1407.9,659.9 L1407,653"/>
<path class="lt" d="M1397.4,666.2 L1396.5,659.3"/>
<path class="lt" d="M1386.9,672.6 L1385.9,665.6"/>
<path class="lt" d="M1376.3,678.9 L1375.4,671.9"/>
<path class="lt" d="M1365.8,685.2 L1364.9,678.3"/>
<path class="lt" d="M1355.3,691.5 L1354.4,684.6"/>
<path class="lt" d="M1344.8,697.8 L1343.8,690.9"/>

</g>
<!-- 39b_ship2_g.svg -->
<g id="s2g">

<path class="lt" d="M1140,826 L1217,778.5 M1140,832.5 L1217,785 M1140.0,826.0 L1140.0,832.5 M1149.6,820.1 L1149.6,826.6 M1159.2,814.1 L1159.2,820.6 M1168.9,808.2 L1168.9,814.7 M1178.5,802.2 L1178.5,808.8 M1188.1,796.3 L1188.1,802.8 M1197.8,790.4 L1197.8,796.9 M1207.4,784.4 L1207.4,790.9 M1217.0,778.5 L1217.0,785.0 "/>
<path class="lt" d="M1000.0,939.0 C1016.7,929.2 1066.7,900.2 1100.0,880.0 C1133.3,859.8 1168.0,837.8 1200.0,818.0 C1232.0,798.2 1269.2,775.4 1292.0,761.0 C1314.8,746.6 1323.3,740.2 1337.0,731.6 C1350.7,723.0 1361.7,717.1 1374.0,709.4 C1386.3,701.7 1398.7,694.0 1411.0,685.4 C1423.3,676.8 1435.7,669.1 1448.0,657.7 C1460.3,646.3 1474.7,631.6 1485.0,617.0 C1495.3,602.4 1503.5,585.3 1510.0,570.0 C1516.5,554.7 1521.7,532.5 1524.0,525.0"/>

</g>
<!-- 39c_ship2_h.svg -->
<g id="s2h">

<path class="l" d="M1310.6,576.2 L1310.6,592.5 L1327.5,592.5 L1327.5,577.5"/>
<path class="l" d="M1315.6,540 L1315.6,591.2"/>
<path class="l" d="M1322.5,540 L1322.5,591.2"/>
<path class="lt" d="M1318.8,540 L1318.8,591.9"/>
<path class="l" d="M1307.5,576.2 L1329.4,576.9 L1396.2,576.2 L1407.5,570 L1391.2,553.8"/>
<path class="l" d="M1396.2,576.2 L1397.5,590 L1380,592.5 L1379.4,626.2 L1321.2,626.2 L1311.2,593.8 L1310.6,592.5"/>
<path class="l" d="M1407.5,570 L1408.8,583.8 L1397.5,590"/>
<path class="l" d="M1347.5,583.1 L1362.5,583.1 L1373.1,591.2 L1373.1,613.8 L1362.5,621.9 L1347.5,621.9 L1337.5,613.8 L1337.5,591.2Z"/>
<path class="l" d="M1410,577.5 L1433.8,580 L1435,583.8 L1411.2,595 L1408.8,583.8"/>
<path class="lt" d="M1412.5,580.2 L1428.8,582 L1413.8,589"/>
<ellipse class="lt" cx="1415" cy="582.5" rx="2.75" ry="1.75"/>
<path class="hs" d="M1398.1,604.4 L1398.1,616.2 A8.125,3.5 0 0 0 1414.4,616.2 L1414.4,604.4 A8.125,3.5 0 0 0 1398.1,604.4 Z"/>
<ellipse class="lt" cx="1406.2" cy="604.4" rx="8.125" ry="3.5"/>
<path class="l" d="M1381.2,626.2 L1397.5,617.5"/>
<path class="l" d="M1382.5,625.6 L1400,632.8 L1416.2,626.5 L1415.6,618.1"/>
<path class="lt" d="M1400,632.8 L1400,630"/>
<path class="lt" d="M1415,606.2 L1426.2,615 M1415,610.6 L1426.2,619.4 M1415,608.4 L1426.2,617.2 M1415.0,606.2 L1415.0,610.6 M1418.7,609.1 L1418.7,613.5 M1422.5,612.1 L1422.5,616.5 M1426.2,615.0 L1426.2,619.4 "/>
<path class="l" d="M1410,595 L1427.5,617.5 L1433.1,646.2"/>
<path class="lt" d="M1410,630 L1411.2,636.5 L1425.6,627.5"/>
<path class="l" d="M1293.1,638.8 L1305,628.1 L1321.2,626.2"/>
<path class="l" d="M1293.1,638.8 L1341.9,645.6 L1379.4,627.5"/>
<path class="l" d="M1293.1,638.8 L1292.5,660 L1342.5,671.9 L1341.9,645.6"/>
<path class="lt" d="M1379.4,627.5 L1383.8,635 L1384.4,646.2"/>
<path class="lt" d="M1341.9,643.1 L1378.8,625 M1341.9,645.9 L1378.8,627.8 M1341.9,643.1 L1341.9,645.9 M1346.0,641.1 L1346.0,643.9 M1350.1,639.1 L1350.1,641.9 M1354.2,637.1 L1354.2,639.9 M1358.3,635.1 L1358.3,637.9 M1362.4,633.0 L1362.4,635.8 M1366.5,631.0 L1366.5,633.8 M1370.6,629.0 L1370.6,631.8 M1374.7,627.0 L1374.7,629.8 M1378.8,625.0 L1378.8,627.8 "/>
<path class="lt" d="M1345,649.4 L1345,670"/>
<path class="lt" d="M1350,646.9 L1350,667.5"/>
<path class="lt" d="M1355,644.4 L1355,665"/>
<path class="lt" d="M1360,641.9 L1360,662.5"/>
<path class="lt" d="M1366.2,647.8 L1377.5,641.9 L1377.8,652.5 L1367.5,658.8Z"/>
<path class="lt" d="M1371.9,639 L1383.1,635 L1383.8,646.2"/>
<path class="lt" d="M1328.1,672.5 L1329.4,655 L1335,655.6 L1335.6,673.5"/>
<path class="lt" d="M1342.5,671.9 L1435,620"/>
<path class="lt" d="M1280,674.4 L1335,676.9 M1280,681.2 L1335,683.8 M1280,677.8 L1335,680.3 M1280.0,674.4 L1280.0,681.2 M1287.9,674.8 L1287.9,681.6 M1295.7,675.1 L1295.7,681.9 M1303.6,675.5 L1303.6,682.3 M1311.4,675.8 L1311.4,682.7 M1319.3,676.2 L1319.3,683.1 M1327.1,676.5 L1327.1,683.4 M1335.0,676.9 L1335.0,683.8 "/>
<path class="lt" d="M1335.0,676.9 C1336.5,677.1 1341.8,677.0 1343.8,678.1 C1345.8,679.2 1346.7,681.8 1346.9,683.8 C1347.1,685.8 1346.8,688.1 1345.0,690.0 C1343.2,691.9 1337.7,694.2 1336.2,695.0"/>
<path class="lt" d="M1335,683.8 L1345,685"/>
<path class="lt" d="M1292.5,700 L1293.8,693.1 L1311.2,693.1 L1313.1,700"/>
<path class="lt" d="M1280,666.2 L1292.5,660"/>
<path class="lt" d="M1292.5,562.5 L1305,621.2 L1321.2,626.2"/>
<path class="lt" d="M1280,568.8 L1292.5,562.5 L1293.8,592.5"/>
<path class="l" d="M1327.5,540 L1327.5,566.9"/>
<path class="l" d="M1350,540 L1350,568.1"/>
<path class="l" d="M1327.5,566.9 C1329.4,567.6 1335.0,571.0 1338.8,571.2 C1342.5,571.4 1348.1,568.6 1350.0,568.1"/>
<path class="lt" d="M1328.1,547.5 C1329.9,548.2 1335.1,551.7 1338.8,551.9 C1342.5,552.1 1348.1,549.3 1350.0,548.8"/>
<path class="lt" d="M1356.2,555.6 L1370,554.8 L1370.2,563.1 L1356.5,564Z"/>
<path class="lt" d="M1348.1,557.5 L1348.1,566.9 L1351.9,565.6 L1351.9,556.9"/>
<path class="lt" d="M1329.4,576.9 L1327.5,566.9"/>
<path class="lt" d="M1350,568.1 L1356.2,564.4 L1392.5,563.1 L1407.5,570"/>
<ellipse class="lt" cx="1387.2" cy="571.9" rx="2" ry="2.75"/>

</g>
<!-- 40_overlay.svg -->
<g id="overlay">
<defs>
<linearGradient id="ga1" gradientUnits="userSpaceOnUse" x1="600" y1="436" x2="715" y2="610"><stop offset="0" stop-color="#ffffff" stop-opacity="0"/><stop offset="0.1" stop-color="#f2f8fd"/><stop offset="0.45" stop-color="#c6e0f5"/><stop offset="1" stop-color="#8fc8ef"/></linearGradient>
<linearGradient id="ga2" gradientUnits="userSpaceOnUse" x1="840" y1="700" x2="940" y2="760"><stop offset="0" stop-color="#a9d3f0"/><stop offset="1" stop-color="#8fc8ef"/></linearGradient>
<linearGradient id="ga3" gradientUnits="userSpaceOnUse" x1="1000" y1="728" x2="1060" y2="820"><stop offset="0" stop-color="#a6d2f1"/><stop offset="1" stop-color="#8ecbf3"/></linearGradient>
</defs>
<path d="M629.3,336 L629.3,405 M635.6,336 L635.6,405" stroke="#d9701e" stroke-width="1.6" fill="none"/>
<path d="M632.5,404 C627,406 625.5,413 628,417 C630,420 635,420 637.5,417 C640,413 638.5,406 632.5,404Z" fill="#f08234" stroke="#d9701e" stroke-width="0.8"/>
<path d="M632.5,419 L632.5,424 C637,425 638,431 633,432.5 C629.5,433 627.5,430.5 628.5,428.5" fill="none" stroke="#ea7a2c" stroke-width="2.3" stroke-linecap="round"/>
<path d="M598.7,437.0 L598.9,437.7 L599.0,438.3 L599.1,438.8 L599.2,439.4 L599.4,440.2 L599.7,441.2 L600.2,442.5 L600.8,444.3 L601.6,446.4 L602.6,449.0 L603.6,451.8 L604.8,455.0 L606.1,458.3 L607.5,461.8 L609.0,465.4 L610.5,469.0 L612.0,472.8 L613.7,476.8 L615.4,481.0 L617.2,485.3 L619.1,489.7 L621.1,494.1 L623.1,498.6 L625.2,502.9 L627.3,507.3 L629.6,511.6 L631.9,516.1 L634.3,520.5 L636.7,524.9 L639.1,529.2 L641.6,533.4 L644.0,537.5 L646.4,541.5 L648.9,545.4 L651.3,549.3 L653.8,553.0 L656.4,556.7 L658.9,560.3 L661.4,563.8 L664.0,567.2 L666.6,570.5 L669.3,573.7 L672.1,576.8 L674.8,579.8 L677.4,582.6 L680.0,585.2 L682.4,587.7 L684.6,590.0 L686.6,592.0 L688.5,593.9 L690.3,595.5 L691.9,597.0 L693.5,598.4 L695.0,599.7 L696.5,601.1 L698.1,602.5 L688.7,610.3 L724.0,615.5 L712.2,583.1 L705.9,593.5 L704.2,592.1 L702.6,590.7 L701.0,589.5 L699.4,588.2 L697.9,586.9 L696.2,585.5 L694.4,583.9 L692.4,582.0 L690.2,579.9 L687.7,577.5 L685.2,575.0 L682.5,572.4 L679.9,569.6 L677.2,566.7 L674.6,563.8 L672.0,560.8 L669.5,557.7 L667.0,554.4 L664.5,551.0 L662.0,547.5 L659.5,543.8 L657.0,540.1 L654.5,536.4 L652.0,532.5 L649.5,528.6 L647.1,524.5 L644.6,520.3 L642.1,516.1 L639.7,511.8 L637.3,507.5 L635.0,503.3 L632.8,499.1 L630.7,494.9 L628.6,490.6 L626.6,486.3 L624.7,482.0 L622.8,477.8 L620.9,473.7 L619.2,469.7 L617.5,466.0 L616.0,462.4 L614.4,458.9 L613.0,455.5 L611.6,452.2 L610.3,449.2 L609.1,446.4 L608.1,443.9 L607.2,441.7 L606.5,440.1 L606.0,438.9 L605.6,438.0 L605.3,437.4 L605.1,436.9 L604.9,436.4 L604.7,435.8 L604.3,435.0Z" fill="url(#ga1)"/>
<path d="M736,633 L762,624 L834,662 L834,695 L806,708 L736,666Z" fill="#f0843a" stroke="#b9581a" stroke-width="1.2" stroke-linejoin="round"/>
<path d="M736,633 L762,624 L834,662 L806,672 Z" fill="#f38c44" stroke="#b9581a" stroke-width="1"/>
<path d="M736,633 L806,672 L806,708 L736,666 Z" fill="#ef8238" stroke="#b9581a" stroke-width="1"/>
<path d="M806,672 L834,662 L834,695 L806,708 Z" fill="#f08539" stroke="#b9581a" stroke-width="1"/>
<path d="M741.6,636.1 L741.6,669.4" stroke="#b9581a" stroke-width="1" fill="none"/>
<path d="M751.4,641.6 L751.4,675.2" stroke="#b9581a" stroke-width="1" fill="none"/>
<path d="M751.4,641.6 L777.4,632.6" stroke="#b9581a" stroke-width="0.9" fill="none"/>
<path d="M761.2,647.0 L761.2,681.1" stroke="#b9581a" stroke-width="1" fill="none"/>
<path d="M761.2,647.0 L787.2,638.0" stroke="#b9581a" stroke-width="0.9" fill="none"/>
<path d="M771.0,652.5 L771.0,687.0" stroke="#b9581a" stroke-width="1" fill="none"/>
<path d="M771.0,652.5 L797.0,643.5" stroke="#b9581a" stroke-width="0.9" fill="none"/>
<path d="M780.8,658.0 L780.8,692.9" stroke="#b9581a" stroke-width="1" fill="none"/>
<path d="M780.8,658.0 L806.8,649.0" stroke="#b9581a" stroke-width="0.9" fill="none"/>
<path d="M790.6,663.4 L790.6,698.8" stroke="#b9581a" stroke-width="1" fill="none"/>
<path d="M790.6,663.4 L816.6,654.4" stroke="#b9581a" stroke-width="0.9" fill="none"/>
<path d="M800.4,668.9 L800.4,704.6" stroke="#b9581a" stroke-width="1" fill="none"/>
<path d="M809.5,676 L830.5,668.5 L830.5,692 L809.5,701.5 Z M820,672.3 L820,697 M809.5,688 L830.5,679.5" stroke="#b9581a" stroke-width="1" fill="none"/>
<path d="M757.5,620 L791,605 M799,646 L828.5,632" stroke="#8f5a36" stroke-width="2.6" stroke-linecap="round"/>
<path d="M759,620 L760,640 M766,617 L766,636 M789,606 L790,640 M800,646 L800,668 M827,633 L827,660 M820,636 L821,652" stroke="#d0762f" stroke-width="1" fill="none" opacity="0.9"/>
<path d="M631.0,334.0 C633.6,341.9 641.3,365.4 646.5,381.6 C651.7,397.8 658.1,417.9 662.0,431.0 C665.9,444.1 664.7,448.2 669.7,460.0 C674.7,471.8 684.4,487.7 692.0,501.6 C699.6,515.5 707.7,529.3 715.5,543.2 C723.3,557.1 731.9,572.1 739.0,584.8 C746.1,597.5 754.8,613.7 758.0,619.5" fill="none" stroke="#d9701e" stroke-width="2.3" stroke-linecap="round"/>
<path d="M631.0,334.0 C633.6,341.9 641.3,365.4 646.5,381.6 C651.7,397.8 658.1,417.9 662.0,431.0 C665.9,444.1 664.7,448.2 669.7,460.0 C674.7,471.8 684.4,487.7 692.0,501.6 C699.6,515.5 707.7,529.3 715.5,543.2 C723.3,557.1 731.9,572.1 739.0,584.8 C746.1,597.5 754.8,613.7 758.0,619.5" fill="none" stroke="#f7c79f" stroke-width="0.69" stroke-linecap="round"/>
<path d="M632.7,334.0 C635.8,341.9 645.3,365.4 651.1,381.6 C656.9,397.8 663.1,417.9 667.6,431.0 C672.2,444.1 672.5,448.2 678.2,460.0 C683.9,471.8 693.9,487.7 701.9,501.6 C709.8,515.5 717.9,529.3 725.9,543.2 C733.9,557.1 742.7,572.9 749.9,584.8 C757.1,596.7 765.9,609.8 769.0,614.8" fill="none" stroke="#d9701e" stroke-width="2.3" stroke-linecap="round"/>
<path d="M632.7,334.0 C635.8,341.9 645.3,365.4 651.1,381.6 C656.9,397.8 663.1,417.9 667.6,431.0 C672.2,444.1 672.5,448.2 678.2,460.0 C683.9,471.8 693.9,487.7 701.9,501.6 C709.8,515.5 717.9,529.3 725.9,543.2 C733.9,557.1 742.7,572.9 749.9,584.8 C757.1,596.7 765.9,609.8 769.0,614.8" fill="none" stroke="#f7c79f" stroke-width="0.69" stroke-linecap="round"/>
<path d="M634.4,334.0 C637.9,341.9 649.1,365.4 655.5,381.6 C662.0,397.8 668.0,417.9 673.1,431.0 C678.3,444.1 680.1,448.2 686.5,460.0 C692.8,471.8 703.2,487.7 711.4,501.6 C719.7,515.5 727.8,529.3 735.9,543.2 C744.1,557.1 753.1,573.6 760.4,584.8 C767.7,596.0 776.6,606.0 779.8,610.2" fill="none" stroke="#d9701e" stroke-width="2.3" stroke-linecap="round"/>
<path d="M634.4,334.0 C637.9,341.9 649.1,365.4 655.5,381.6 C662.0,397.8 668.0,417.9 673.1,431.0 C678.3,444.1 680.1,448.2 686.5,460.0 C692.8,471.8 703.2,487.7 711.4,501.6 C719.7,515.5 727.8,529.3 735.9,543.2 C744.1,557.1 753.1,573.6 760.4,584.8 C767.7,596.0 776.6,606.0 779.8,610.2" fill="none" stroke="#f7c79f" stroke-width="0.69" stroke-linecap="round"/>
<path d="M636.0,334.0 C640.0,341.9 652.9,365.4 660.0,381.6 C667.1,397.8 672.8,417.9 678.6,431.0 C684.4,444.1 687.6,448.2 694.7,460.0 C701.8,471.8 712.5,487.7 721.0,501.6 C729.5,515.5 737.7,529.3 746.0,543.2 C754.3,557.1 763.6,574.4 771.0,584.8 C778.4,595.2 787.2,602.1 790.5,605.6" fill="none" stroke="#d9701e" stroke-width="2.3" stroke-linecap="round"/>
<path d="M636.0,334.0 C640.0,341.9 652.9,365.4 660.0,381.6 C667.1,397.8 672.8,417.9 678.6,431.0 C684.4,444.1 687.6,448.2 694.7,460.0 C701.8,471.8 712.5,487.7 721.0,501.6 C729.5,515.5 737.7,529.3 746.0,543.2 C754.3,557.1 763.6,574.4 771.0,584.8 C778.4,595.2 787.2,602.1 790.5,605.6" fill="none" stroke="#f7c79f" stroke-width="0.69" stroke-linecap="round"/>
<path d="M790.5,605.5 C796.9,609.9 816.6,624.1 829.0,632.0 C841.4,639.9 853.2,646.6 865.0,653.0 C876.8,659.4 884.9,664.6 900.0,670.4 C915.1,676.2 937.0,682.3 955.5,687.7 C974.0,693.1 991.5,698.1 1011.0,703.0 C1030.5,707.9 1062.4,714.6 1072.7,716.9" fill="none" stroke="#d9701e" stroke-width="2.2" stroke-linecap="round"/>
<path d="M790.5,605.5 C796.9,609.9 816.6,624.1 829.0,632.0 C841.4,639.9 853.2,646.6 865.0,653.0 C876.8,659.4 884.9,664.6 900.0,670.4 C915.1,676.2 937.0,682.3 955.5,687.7 C974.0,693.1 991.5,698.1 1011.0,703.0 C1030.5,707.9 1062.4,714.6 1072.7,716.9" fill="none" stroke="#f7c79f" stroke-width="0.66" stroke-linecap="round"/>
<path d="M784.0,608.5 C791.6,613.2 816.0,628.4 829.5,637.0 C843.0,645.6 853.2,653.2 865.0,660.0 C876.8,666.8 884.9,671.9 900.0,678.0 C915.1,684.1 937.0,691.4 955.5,696.8 C974.0,702.2 991.6,706.6 1011.0,710.6 C1030.4,714.6 1061.8,719.3 1072.0,721.0" fill="none" stroke="#d9701e" stroke-width="2.2" stroke-linecap="round"/>
<path d="M784.0,608.5 C791.6,613.2 816.0,628.4 829.5,637.0 C843.0,645.6 853.2,653.2 865.0,660.0 C876.8,666.8 884.9,671.9 900.0,678.0 C915.1,684.1 937.0,691.4 955.5,696.8 C974.0,702.2 991.6,706.6 1011.0,710.6 C1030.4,714.6 1061.8,719.3 1072.0,721.0" fill="none" stroke="#f7c79f" stroke-width="0.66" stroke-linecap="round"/>
<path d="M777.0,611.5 C785.8,616.8 815.3,633.8 830.0,643.0 C844.7,652.2 853.3,659.7 865.0,667.0 C876.7,674.3 884.9,680.3 900.0,687.0 C915.1,693.7 937.0,701.5 955.5,707.2 C974.0,712.9 992.6,717.0 1011.0,721.0 C1029.4,725.0 1056.8,729.3 1066.0,731.0" fill="none" stroke="#d9701e" stroke-width="2.2" stroke-linecap="round"/>
<path d="M777.0,611.5 C785.8,616.8 815.3,633.8 830.0,643.0 C844.7,652.2 853.3,659.7 865.0,667.0 C876.7,674.3 884.9,680.3 900.0,687.0 C915.1,693.7 937.0,701.5 955.5,707.2 C974.0,712.9 992.6,717.0 1011.0,721.0 C1029.4,725.0 1056.8,729.3 1066.0,731.0" fill="none" stroke="#f7c79f" stroke-width="0.66" stroke-linecap="round"/>
<path d="M770.0,614.5 C780.2,620.4 815.2,640.1 831.0,650.0 C846.8,659.9 853.5,665.8 865.0,674.0 C876.5,682.2 887.2,691.7 900.0,699.5 C912.8,707.3 927.7,714.2 941.6,721.0 C955.5,727.8 971.9,735.2 983.2,740.4 C994.5,745.6 1005.2,750.2 1009.6,752.2" fill="none" stroke="#d9701e" stroke-width="2.2" stroke-linecap="round"/>
<path d="M770.0,614.5 C780.2,620.4 815.2,640.1 831.0,650.0 C846.8,659.9 853.5,665.8 865.0,674.0 C876.5,682.2 887.2,691.7 900.0,699.5 C912.8,707.3 927.7,714.2 941.6,721.0 C955.5,727.8 971.9,735.2 983.2,740.4 C994.5,745.6 1005.2,750.2 1009.6,752.2" fill="none" stroke="#f7c79f" stroke-width="0.66" stroke-linecap="round"/>
<path d="M764.0,617.5 C775.2,623.9 814.7,645.4 831.5,656.0 C848.3,666.6 853.6,672.4 865.0,681.0 C876.4,689.6 887.2,699.9 900.0,707.9 C912.8,715.9 927.7,722.5 941.6,729.3 C955.5,736.1 972.3,744.2 983.2,748.8 C994.1,753.4 1002.9,755.6 1006.8,757.0" fill="none" stroke="#d9701e" stroke-width="2.2" stroke-linecap="round"/>
<path d="M764.0,617.5 C775.2,623.9 814.7,645.4 831.5,656.0 C848.3,666.6 853.6,672.4 865.0,681.0 C876.4,689.6 887.2,699.9 900.0,707.9 C912.8,715.9 927.7,722.5 941.6,729.3 C955.5,736.1 972.3,744.2 983.2,748.8 C994.1,753.4 1002.9,755.6 1006.8,757.0" fill="none" stroke="#f7c79f" stroke-width="0.66" stroke-linecap="round"/>
<path d="M758.5,620.0 C770.8,627.1 814.2,651.3 832.0,662.5 C849.8,673.7 853.7,678.3 865.0,687.0 C876.3,695.7 887.2,706.5 900.0,714.8 C912.8,723.1 928.9,730.6 941.6,737.0 C954.3,743.4 965.4,748.6 976.3,752.9 C987.2,757.2 1001.7,761.0 1006.8,762.6" fill="none" stroke="#d9701e" stroke-width="2.2" stroke-linecap="round"/>
<path d="M758.5,620.0 C770.8,627.1 814.2,651.3 832.0,662.5 C849.8,673.7 853.7,678.3 865.0,687.0 C876.3,695.7 887.2,706.5 900.0,714.8 C912.8,723.1 928.9,730.6 941.6,737.0 C954.3,743.4 965.4,748.6 976.3,752.9 C987.2,757.2 1001.7,761.0 1006.8,762.6" fill="none" stroke="#f7c79f" stroke-width="0.66" stroke-linecap="round"/>
<path d="M837.9,710.2 L840.2,711.9 L842.5,713.7 L844.8,715.5 L847.1,717.3 L849.5,719.1 L852.0,720.9 L854.5,722.7 L857.1,724.4 L859.9,726.1 L862.6,727.8 L865.5,729.5 L868.4,731.1 L871.2,732.7 L874.1,734.2 L876.9,735.7 L879.6,737.2 L882.3,738.5 L885.0,739.9 L887.6,741.1 L890.2,742.3 L892.8,743.5 L895.2,744.6 L897.5,745.7 L899.7,746.7 L901.8,747.7 L903.8,748.7 L905.6,749.7 L907.4,750.6 L909.2,751.5 L911.0,752.4 L912.8,753.3 L914.6,754.2 L907.3,764.2 L941.5,762.0 L923.1,733.0 L919.4,744.8 L917.5,743.9 L915.7,743.0 L914.0,742.1 L912.2,741.2 L910.3,740.3 L908.4,739.3 L906.4,738.3 L904.3,737.3 L902.0,736.2 L899.6,735.1 L897.1,733.9 L894.6,732.8 L892.1,731.6 L889.5,730.4 L887.0,729.2 L884.4,727.8 L881.8,726.5 L879.1,725.0 L876.3,723.5 L873.5,722.0 L870.7,720.4 L868.0,718.8 L865.4,717.2 L862.9,715.6 L860.4,714.0 L858.1,712.3 L855.8,710.6 L853.5,708.9 L851.2,707.2 L848.9,705.4 L846.5,703.6 L844.1,701.8Z" fill="url(#ga2)"/>
</g>
<!-- 60_labels.svg -->
<g id="labels">
<text class="lbl" x="347" y="338.5" textLength="186" lengthAdjust="spacingAndGlyphs">Heavy Lift Crane</text>
<text class="lbl" x="873.5" y="613" textLength="140" lengthAdjust="spacingAndGlyphs">High-Tension</text>
<text class="lbl" x="906" y="639.5" textLength="74.5" lengthAdjust="spacingAndGlyphs">Cables</text>
<text class="lbl" x="609" y="730" textLength="109" lengthAdjust="spacingAndGlyphs">MK 41 VLS</text>
<text class="lbl" x="619" y="756" textLength="90" lengthAdjust="spacingAndGlyphs">Canister</text>
<text class="lbl" x="1169" y="929" textLength="232" lengthAdjust="spacingAndGlyphs">TRAM Transfer Frame</text>
<text class="lbl" x="1085" y="997" textLength="136" lengthAdjust="spacingAndGlyphs">Aft VLS Bank</text>
<path class="ld" d="M539,332 L569,370 M935,648 L920,673.5 M723.5,720 L760.5,688.5"/>
<path d="M1163,918.5 L1086,830.5 M1079.5,986 L995,877.5" stroke="#dbe6ef" stroke-width="3" fill="none" stroke-linecap="round"/>
<path class="ld" d="M1163,918.5 L1086,830.5 M1079.5,986 L995,877.5"/>
</g>
</svg>
<p id="cap"><span id="c1">The TRAM system fundamentally alters the logistical calculus of maritime warfare. By enabling underway replenishment</span><span id="c2">of VLS cells, surface combatants can remain within the Weapons Engagement Zone indefinitely, eliminating the</span><span id="c3">operational penalty of transiting to safe harbors for rearmament.</span></p>
</body></html>
